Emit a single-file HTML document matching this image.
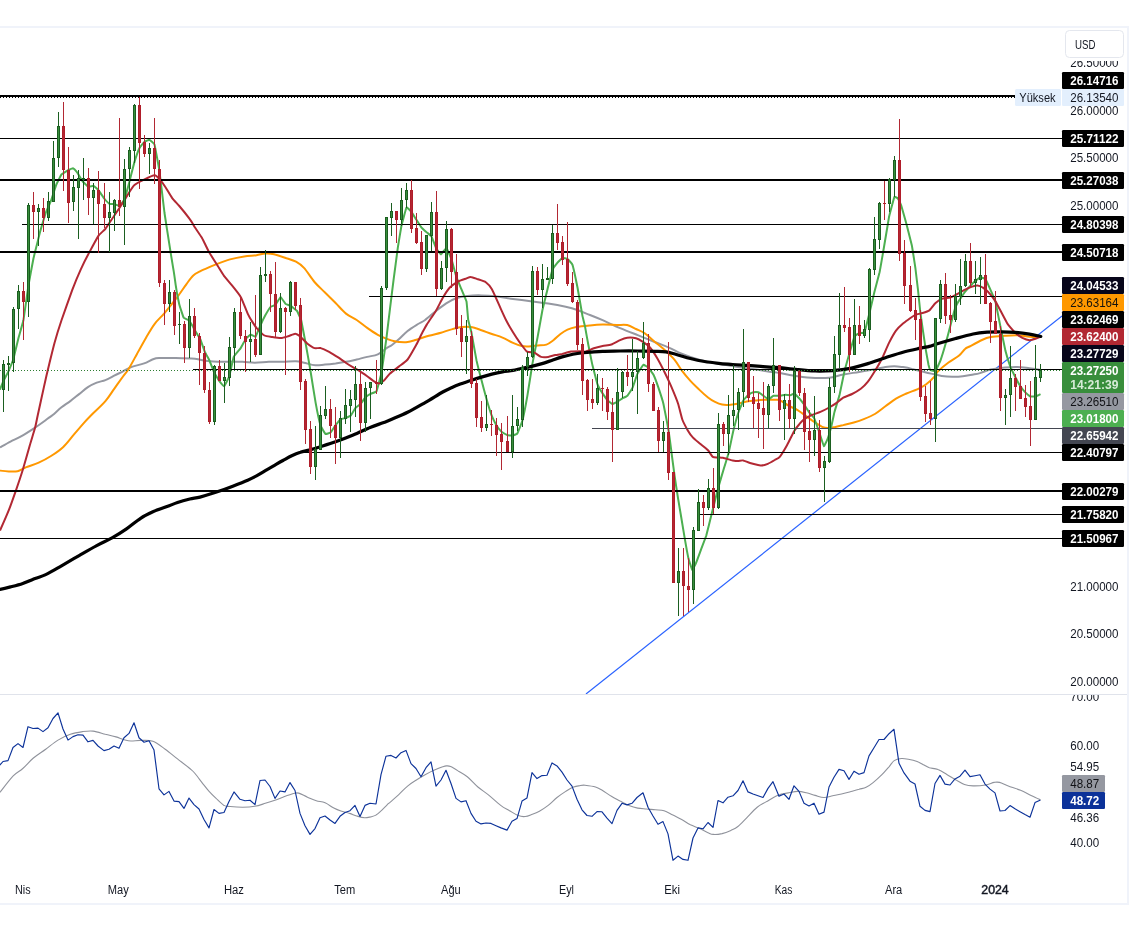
<!DOCTYPE html>
<html lang="tr"><head><meta charset="utf-8"><title>Chart</title>
<style>html,body{margin:0;padding:0;background:#fff;}body{width:1138px;height:939px;overflow:hidden;}svg{display:block;}</style>
</head><body>
<svg width="1138" height="939" viewBox="0 0 1138 939" font-family="Liberation Sans, sans-serif" font-size="12">
<rect x="0" y="0" width="1138" height="939" fill="#fff"/>
<g shape-rendering="crispEdges" fill="#f0f3fa">
<rect x="0" y="26" width="1129" height="2"/>
<rect x="1127" y="26" width="2" height="879"/>
<rect x="0" y="903" width="1129" height="2"/>
</g>
<rect x="0" y="694" width="1127" height="1" fill="#e0e3eb" shape-rendering="crispEdges"/>
<defs><clipPath id="cm"><rect x="0" y="28" width="1062" height="666"/></clipPath><clipPath id="cr"><rect x="0" y="695" width="1062" height="175"/></clipPath><clipPath id="c70"><rect x="1062" y="695" width="65" height="20"/></clipPath><clipPath id="c265"><rect x="1062" y="61" width="65" height="20"/></clipPath></defs>
<g clip-path="url(#cm)">
<line x1="586" y1="694" x2="1062" y2="316" stroke="#2962ff" stroke-width="1.2"/>
<path d="M0.0,447.4C1.8,446.4 7.0,443.4 10.5,441.6C14.0,439.8 16.9,438.7 21.0,436.4C25.1,434.1 30.7,430.5 35.1,427.6C39.5,424.7 44.6,420.9 47.5,418.8C50.4,416.7 50.4,416.9 52.7,415.0C55.0,413.1 58.6,409.6 61.5,407.3C64.4,405.0 67.4,403.3 70.3,401.1C73.2,398.9 76.2,396.4 79.1,394.1C82.0,391.8 85.0,389.0 87.9,387.1C90.8,385.2 93.8,383.9 96.7,382.7C99.6,381.5 102.5,381.3 105.4,380.1C108.3,378.9 111.3,377.2 114.2,375.7C117.1,374.2 120.1,372.8 123.0,371.3C125.9,369.8 128.3,368.2 131.8,366.9C135.3,365.6 140.6,364.7 144.1,363.4C147.6,362.1 150.4,360.2 152.9,359.3C155.4,358.4 155.2,358.3 159.0,358.1C162.8,357.9 169.7,358.0 175.7,358.1C181.7,358.2 190.0,358.4 195.0,358.8C200.0,359.2 201.7,360.3 205.5,360.8C209.3,361.3 213.7,361.5 217.8,361.7C221.9,361.9 225.9,361.8 230.0,361.8C234.1,361.8 238.4,361.7 242.5,361.8C246.6,361.9 250.4,362.7 254.8,362.7C259.2,362.7 264.1,362.0 268.8,361.8C273.5,361.6 278.4,361.8 282.9,361.7C287.4,361.6 292.5,361.1 296.0,361.3C299.5,361.5 300.8,362.0 304.0,362.7C307.2,363.4 311.9,365.0 315.4,365.3C318.9,365.6 321.6,364.8 325.0,364.5C328.4,364.2 332.1,363.8 335.6,363.4C339.1,362.9 342.5,362.4 346.0,361.8C349.5,361.2 353.2,360.3 356.7,359.5C360.2,358.7 363.7,357.8 367.2,356.9C370.7,356.0 374.6,355.8 377.8,354.3C381.0,352.8 384.2,349.7 386.6,348.1C389.0,346.6 390.0,346.5 392.0,345.0C394.0,343.5 396.2,341.6 398.8,339.3C401.4,337.0 404.4,333.6 407.6,331.0C410.8,328.4 415.2,325.8 418.1,324.0C421.0,322.2 422.2,322.1 425.1,320.0C428.0,317.9 432.2,314.0 435.7,311.2C439.2,308.4 442.7,305.5 446.2,303.3C449.7,301.1 453.3,299.2 456.8,298.0C460.3,296.8 463.2,296.3 467.3,295.9C471.4,295.5 476.7,295.3 481.4,295.4C486.1,295.5 490.1,295.7 495.4,296.3C500.7,296.9 507.1,298.1 513.0,298.9C518.9,299.7 524.7,300.4 530.6,301.2C536.5,302.0 542.4,302.7 548.2,303.6C554.1,304.5 560.7,305.7 565.7,306.8C570.7,307.9 574.0,308.9 578.0,310.3C582.0,311.7 585.9,313.4 590.0,315.0C594.1,316.6 597.6,318.0 602.6,320.2C607.6,322.4 614.2,325.6 620.1,328.1C626.0,330.6 631.8,332.8 637.7,335.1C643.6,337.5 650.0,340.1 655.3,342.2C660.6,344.3 665.0,345.9 669.4,347.8C673.8,349.7 676.7,351.6 681.7,353.6C686.7,355.6 693.4,358.1 699.2,359.8C705.1,361.5 710.9,362.5 716.8,363.6C722.7,364.7 728.5,365.5 734.4,366.4C740.3,367.3 746.1,368.0 752.0,368.9C757.9,369.8 764.8,371.0 769.5,371.7C774.2,372.4 775.3,372.3 780.0,373.1C784.7,373.9 791.8,375.5 797.6,376.3C803.5,377.1 809.8,377.8 815.1,378.0C820.4,378.2 824.5,378.3 829.2,377.7C833.9,377.1 838.3,375.5 843.3,374.5C848.3,373.5 853.8,372.8 859.1,371.9C864.4,371.0 870.5,370.0 874.9,369.2C879.3,368.4 882.2,367.5 885.4,367.0C888.6,366.5 891.3,366.2 894.2,366.2C897.1,366.2 900.1,366.7 903.0,367.1C905.9,367.6 908.9,368.2 911.8,368.9C914.7,369.5 917.4,370.2 920.6,371.0C923.8,371.8 927.6,372.8 931.1,373.6C934.6,374.4 938.2,375.4 941.7,375.9C945.2,376.4 948.7,376.7 952.2,376.8C955.7,376.9 959.3,376.7 962.8,376.3C966.3,375.9 970.4,375.0 973.3,374.5C976.2,374.0 977.1,373.9 980.0,373.1C982.9,372.3 986.6,370.5 990.7,369.6C994.8,368.7 1000.4,367.9 1004.8,367.5C1009.2,367.1 1013.0,366.8 1017.1,366.9C1021.2,367.0 1025.5,367.8 1029.4,368.3C1033.4,368.8 1038.9,369.6 1040.8,369.9" fill="none" stroke="#9598a1" stroke-width="2" stroke-linejoin="round" stroke-linecap="butt"/>
<path d="M0.0,470.6C1.5,470.8 5.9,471.4 8.8,471.5C11.7,471.6 14.7,471.9 17.6,471.2C20.5,470.5 22.9,468.5 26.4,467.1C29.9,465.7 34.6,464.6 38.7,462.7C42.8,460.8 46.9,458.6 51.0,456.0C55.1,453.4 59.5,450.5 63.3,446.9C67.1,443.3 70.3,438.7 73.8,434.6C77.3,430.5 81.5,425.6 84.4,422.3C87.3,419.0 87.9,418.5 91.4,415.0C94.9,411.5 101.6,405.5 105.4,401.1C109.2,396.7 111.3,392.9 114.2,388.8C117.1,384.7 120.7,379.7 123.0,376.5C125.3,373.3 126.0,373.3 128.3,369.5C130.7,365.7 134.2,359.0 137.1,353.7C140.0,348.4 143.0,342.9 145.9,337.9C148.8,332.9 151.6,327.9 154.7,323.8C157.8,319.7 160.8,317.4 164.3,313.3C167.8,309.2 172.0,304.0 175.7,299.2C179.4,294.4 183.4,288.2 186.3,284.3C189.2,280.4 191.0,277.6 193.3,275.5C195.6,273.4 198.0,272.5 200.0,271.4C202.0,270.3 202.8,270.0 205.5,268.8C208.2,267.6 211.9,266.0 216.0,264.4C220.1,262.8 225.3,260.7 230.0,259.4C234.7,258.1 239.8,257.1 244.2,256.4C248.6,255.7 253.0,255.7 256.5,255.2C260.0,254.7 262.4,253.7 265.3,253.5C268.2,253.3 270.5,253.4 274.0,254.2C277.5,255.0 282.7,256.9 286.4,258.2C290.1,259.4 293.1,260.1 296.0,261.7C298.9,263.3 300.9,264.5 304.0,267.9C307.1,271.3 311.0,277.9 314.5,282.0C318.0,286.1 321.5,289.0 325.0,292.5C328.5,296.0 332.1,299.5 335.6,303.0C339.1,306.5 342.5,310.8 346.0,313.6C349.5,316.4 353.2,317.6 356.7,320.0C360.2,322.4 363.7,325.4 367.2,327.9C370.7,330.4 374.3,332.9 377.8,334.8C381.3,336.7 385.4,338.3 388.3,339.4C391.2,340.5 393.2,340.9 395.0,341.3C396.8,341.7 396.7,341.9 398.8,342.0C400.9,342.1 404.7,342.4 407.6,342.0C410.5,341.6 412.9,340.7 416.4,339.7C419.9,338.7 424.6,337.0 428.7,335.8C432.8,334.6 437.2,333.8 441.0,332.7C444.8,331.6 448.0,330.3 451.5,329.4C455.0,328.4 458.8,327.4 462.0,327.0C465.2,326.6 467.6,326.5 470.8,327.0C474.0,327.5 477.9,329.0 481.4,330.2C484.9,331.4 488.4,332.8 491.9,334.0C495.4,335.2 499.0,336.1 502.5,337.6C506.0,339.1 509.8,341.4 513.0,342.8C516.2,344.2 519.2,345.4 521.8,346.0C524.4,346.6 526.2,346.5 528.8,346.4C531.4,346.3 534.7,345.8 537.6,345.5C540.5,345.2 543.8,345.5 546.4,344.6C549.0,343.7 551.0,342.0 553.4,340.2C555.8,338.4 558.1,335.8 560.5,334.0C562.9,332.2 564.9,330.9 567.5,329.7C570.1,328.5 572.5,327.7 576.3,327.0C580.0,326.3 585.6,325.8 590.0,325.4C594.4,325.0 598.2,324.7 602.6,324.6C607.0,324.5 612.5,324.9 616.6,325.0C620.7,325.1 624.0,324.4 627.2,325.1C630.4,325.8 633.1,327.6 636.0,329.0C638.9,330.4 641.6,331.2 644.8,333.4C648.0,335.6 651.8,339.3 655.3,342.2C658.8,345.1 662.6,348.1 665.8,351.0C669.0,353.9 672.0,356.6 674.6,359.8C677.2,363.0 679.1,366.8 681.7,370.3C684.3,373.8 687.5,377.6 690.4,380.8C693.3,384.0 696.3,386.8 699.2,389.6C702.1,392.4 705.4,395.4 708.0,397.5C710.6,399.6 712.6,400.7 715.0,401.9C717.4,403.1 719.8,404.1 722.1,404.6C724.5,405.1 726.5,405.0 729.1,404.9C731.7,404.8 735.0,404.2 737.9,403.7C740.8,403.1 743.8,402.1 746.7,401.6C749.6,401.1 752.6,400.8 755.5,400.5C758.4,400.2 761.1,399.9 764.3,399.8C767.5,399.7 772.2,399.7 774.8,399.8C777.4,399.9 777.7,399.3 780.0,400.3C782.3,401.3 785.9,404.2 788.8,405.8C791.7,407.4 794.7,408.4 797.6,410.1C800.5,411.9 803.5,414.2 806.4,416.3C809.3,418.4 812.5,420.8 815.1,422.5C817.7,424.2 820.1,425.9 822.2,426.8C824.3,427.7 825.5,428.0 827.5,428.1C829.5,428.2 831.9,427.7 834.5,427.2C837.1,426.7 840.1,425.9 843.3,425.1C846.5,424.3 850.3,423.5 853.8,422.5C857.3,421.5 860.9,420.3 864.4,418.9C867.9,417.5 871.4,416.1 874.9,414.0C878.4,411.9 881.9,408.9 885.4,406.3C888.9,403.8 892.5,400.8 896.0,398.7C899.5,396.6 903.0,395.1 906.5,393.5C910.0,391.9 913.9,390.9 917.1,389.4C920.3,387.9 923.0,386.7 925.9,384.5C928.8,382.3 932.7,378.5 934.7,376.3C936.7,374.1 935.7,373.6 938.0,371.3C940.3,369.0 945.0,365.1 948.5,362.5C952.0,359.9 956.3,357.9 959.1,355.6C961.9,353.3 963.5,350.3 965.3,348.8C967.0,347.3 966.8,348.0 969.6,346.5C972.4,345.0 978.5,341.6 982.0,340.0C985.5,338.4 986.9,337.8 990.7,337.1C994.5,336.4 1000.4,336.1 1004.8,335.8C1009.2,335.5 1013.0,335.2 1017.1,335.3C1021.2,335.4 1025.5,336.4 1029.4,336.7C1033.4,337.0 1038.9,337.0 1040.8,337.1" fill="none" stroke="#ff9800" stroke-width="2" stroke-linejoin="round" stroke-linecap="butt"/>
<path d="M0.0,389.7C0.1,389.3 3.2,381.6 3.5,380.9C3.8,380.2 8.0,372.2 8.4,371.3C8.8,370.4 13.0,360.3 13.4,359.0C13.8,357.7 18.1,339.4 18.5,337.9C18.9,336.4 23.0,322.4 23.4,320.3C23.8,318.2 28.1,287.6 28.5,285.1C28.9,282.6 33.1,260.1 33.4,258.8C33.7,257.5 34.8,252.8 35.1,251.7C35.4,250.6 40.0,232.1 40.4,230.6C40.8,229.1 45.3,214.2 45.7,213.0C46.1,211.8 50.6,201.8 51.0,200.7C51.4,199.6 55.8,186.0 56.2,184.9C56.6,183.8 61.0,175.0 61.5,174.4C62.0,173.8 68.0,170.2 68.5,170.0C69.0,169.8 72.5,168.1 72.9,168.2C73.3,168.3 76.9,172.1 77.3,172.6C77.7,173.1 82.2,180.8 82.6,181.4C83.0,182.0 88.0,186.5 88.4,186.7C88.8,186.9 93.1,185.7 93.5,185.8C93.9,185.9 98.0,189.7 98.4,190.2C98.8,190.7 104.2,198.5 104.6,199.0C105.0,199.5 109.1,203.7 109.5,203.9C109.9,204.1 114.2,204.1 114.6,204.2C115.0,204.3 119.1,206.2 119.5,206.0C119.9,205.8 124.2,200.0 124.6,199.0C125.0,198.0 129.1,182.9 129.5,181.4C129.9,179.9 134.0,163.4 134.4,162.1C134.8,160.8 139.1,148.8 139.5,148.0C139.9,147.2 144.1,142.1 144.5,141.8C144.9,141.5 149.0,139.6 149.4,139.7C149.8,139.8 154.1,143.3 154.5,144.5C154.9,145.7 159.0,168.1 159.4,170.8C159.8,173.5 164.1,210.0 164.5,213.0C164.9,216.0 169.1,242.5 169.4,244.7C169.7,246.9 172.8,266.0 173.1,267.6C173.4,269.2 175.5,283.6 175.7,285.1C175.9,286.6 179.0,303.2 179.3,304.5C179.6,305.8 183.3,317.1 183.7,317.7C184.1,318.3 188.5,319.9 188.9,320.3C189.3,320.7 193.1,326.9 193.3,327.3C193.5,327.7 194.7,330.0 195.0,330.5C195.3,331.0 199.9,338.5 200.3,339.3C200.7,340.1 204.4,350.8 204.7,351.6C205.0,352.4 208.6,358.7 209.0,359.5C209.4,360.3 213.9,371.8 214.3,372.7C214.7,373.6 219.2,381.0 219.6,381.5C220.0,382.0 223.6,386.6 224.0,386.4C224.4,386.2 228.9,377.4 229.3,376.2C229.7,375.0 233.2,358.0 233.7,356.9C234.2,355.8 240.2,348.8 240.7,348.1C241.2,347.4 245.6,339.0 246.0,338.5C246.4,338.0 250.1,334.7 250.5,334.6C250.9,334.5 255.2,337.1 255.6,336.7C256.0,336.3 260.1,326.2 260.5,325.3C260.9,324.4 264.9,316.0 265.3,315.3C265.7,314.6 270.2,307.3 270.6,306.9C271.0,306.5 275.1,305.2 275.5,304.8C275.9,304.4 280.2,296.9 280.6,296.9C281.0,296.9 285.1,303.5 285.5,303.9C285.9,304.3 289.9,305.4 290.4,305.7C290.9,306.0 296.6,310.3 297.0,310.9C297.4,311.5 301.0,319.3 301.3,320.6C301.6,321.9 305.3,341.7 305.7,343.7C306.1,345.7 310.1,368.6 310.5,371.0C310.9,373.4 315.2,400.4 315.6,402.6C316.0,404.8 320.1,424.1 320.5,425.4C320.9,426.7 325.0,433.6 325.4,433.9C325.8,434.2 330.1,432.8 330.5,432.5C330.9,432.2 335.0,425.9 335.4,425.4C335.8,424.9 340.1,419.6 340.5,419.3C340.9,419.0 345.0,418.1 345.4,418.0C345.8,417.9 350.1,416.2 350.5,415.8C350.9,415.4 355.1,408.4 355.5,407.9C355.9,407.4 360.1,404.4 360.5,404.0C360.9,403.6 365.1,397.7 365.5,397.3C365.9,396.9 370.1,394.0 370.5,393.8C370.9,393.6 376.1,392.0 376.5,391.2C376.9,390.4 381.1,374.8 381.5,372.7C381.9,370.6 386.2,340.2 386.5,337.6C386.8,335.0 389.7,310.9 390.0,308.6C390.3,306.3 393.2,282.9 393.5,280.4C393.8,277.9 397.6,249.3 397.9,247.1C398.2,244.9 401.1,227.6 401.4,226.0C401.7,224.4 406.1,208.1 406.5,207.5C406.9,206.9 411.0,211.4 411.4,211.9C411.8,212.4 416.0,219.2 416.4,219.8C416.8,220.4 421.1,227.2 421.5,227.7C421.9,228.2 426.0,231.7 426.4,232.1C426.8,232.5 431.1,235.8 431.5,236.5C431.9,237.2 436.0,248.1 436.4,248.8C436.8,249.5 440.6,254.4 441.0,254.4C441.4,254.4 446.0,247.7 446.4,247.9C446.8,248.1 451.1,258.2 451.5,259.4C451.9,260.6 456.0,275.7 456.4,276.9C456.8,278.1 461.0,288.2 461.4,289.2C461.8,290.2 466.2,300.3 466.5,301.5C466.8,302.7 468.0,318.8 468.2,320.0C468.4,321.2 471.1,330.7 471.4,332.3C471.7,333.9 476.1,358.5 476.5,360.4C476.9,362.3 481.0,378.3 481.4,379.8C481.8,381.3 486.1,397.7 486.5,399.1C486.9,400.5 491.0,413.8 491.4,414.9C491.8,416.0 496.1,424.7 496.5,425.4C496.9,426.1 501.0,431.2 501.4,431.6C501.8,432.0 507.0,434.9 507.4,435.1C507.8,435.3 512.1,435.6 512.5,435.5C512.9,435.4 517.0,434.0 517.4,433.4C517.8,432.8 522.1,421.7 522.5,420.2C522.9,418.7 527.0,397.9 527.4,395.6C527.8,393.3 532.0,366.2 532.4,363.9C532.8,361.6 537.1,339.7 537.5,337.6C537.9,335.5 542.0,312.2 542.4,310.3C542.8,308.4 547.1,290.8 547.5,289.2C547.9,287.6 552.0,271.0 552.4,269.9C552.8,268.8 556.9,263.4 557.3,262.9C557.7,262.4 562.0,258.2 562.4,258.0C562.8,257.8 567.1,258.7 567.5,259.0C567.9,259.3 572.0,263.5 572.4,264.6C572.8,265.7 577.1,285.5 577.5,287.5C577.9,289.5 582.1,314.0 582.4,315.6C582.7,317.2 584.8,325.2 585.0,326.4C585.2,327.6 588.2,344.2 588.5,345.7C588.8,347.2 592.0,363.5 592.4,365.0C592.8,366.5 597.1,383.3 597.5,384.4C597.9,385.5 602.0,392.5 602.4,393.1C602.8,393.7 607.1,399.8 607.5,400.2C607.9,400.6 612.0,403.9 612.4,404.0C612.8,404.1 617.1,401.8 617.5,401.6C617.9,401.4 622.0,398.6 622.4,398.4C622.8,398.2 627.0,396.2 627.4,395.8C627.8,395.4 632.1,388.8 632.5,387.9C632.9,387.0 637.0,374.7 637.4,373.8C637.8,372.9 643.1,364.9 643.5,364.7C643.9,364.5 648.0,367.3 648.4,367.7C648.8,368.1 653.1,373.9 653.5,374.7C653.9,375.5 658.1,386.7 658.5,387.9C658.9,389.1 663.0,402.0 663.4,403.7C663.8,405.4 668.2,428.3 668.5,430.1C668.8,431.9 670.9,447.6 671.1,449.4C671.3,451.2 674.3,473.8 674.6,475.8C674.9,477.8 677.7,496.5 678.1,498.7C678.5,500.9 683.0,527.9 683.4,530.3C683.8,532.7 688.1,556.8 688.5,558.4C688.9,560.0 691.9,569.6 692.2,569.8C692.5,570.0 695.3,564.5 695.7,563.7C696.1,562.9 700.6,550.7 701.0,549.6C701.4,548.5 705.9,537.0 706.3,535.6C706.7,534.2 711.0,516.5 711.5,514.5C712.0,512.5 718.1,488.2 718.6,486.4C719.1,484.6 723.4,470.1 723.8,468.8C724.2,467.5 728.2,454.4 728.6,452.9C729.0,451.4 733.1,431.7 733.5,430.1C733.9,428.5 738.0,413.7 738.4,412.5C738.8,411.3 743.1,400.9 743.5,400.2C743.9,399.5 748.0,395.2 748.4,394.9C748.8,394.6 753.0,392.4 753.4,392.3C753.8,392.2 758.1,392.2 758.5,392.3C758.9,392.4 763.0,395.5 763.4,395.8C763.8,396.1 768.1,399.3 768.5,399.3C768.9,399.3 773.0,395.9 773.4,395.8C773.8,395.7 778.9,395.8 779.4,395.8C779.9,395.8 784.9,394.7 785.3,394.7C785.7,394.7 790.1,395.2 790.5,395.2C790.9,395.2 794.0,393.4 794.4,393.5C794.8,393.6 799.1,398.2 799.5,398.7C799.9,399.2 804.0,404.3 804.4,404.9C804.8,405.5 809.1,412.3 809.5,412.8C809.9,413.3 814.0,417.8 814.4,418.6C814.8,419.4 819.1,431.9 819.5,433.0C819.9,434.1 823.6,446.0 823.9,446.2C824.2,446.4 827.2,439.8 827.5,439.1C827.8,438.4 830.7,428.8 831.0,427.7C831.3,426.6 834.2,413.2 834.5,411.9C834.8,410.6 839.0,397.2 839.4,395.6C839.8,394.0 844.1,372.7 844.5,371.0C844.9,369.3 849.0,354.8 849.4,353.4C849.8,352.0 854.1,337.5 854.5,336.7C854.9,335.9 859.0,333.4 859.4,333.2C859.8,333.0 864.1,333.1 864.5,332.3C864.9,331.5 869.1,314.6 869.5,313.0C869.9,311.4 874.0,293.5 874.4,291.9C874.8,290.3 879.1,274.3 879.5,272.6C879.9,270.9 883.3,251.0 883.7,248.8C884.1,246.6 888.6,219.3 889.0,217.2C889.4,215.1 894.0,197.7 894.4,197.0C894.8,196.3 897.8,198.4 898.1,198.8C898.4,199.2 901.0,204.8 901.3,205.8C901.6,206.8 906.1,222.6 906.5,224.2C906.9,225.8 911.4,243.5 911.8,245.3C912.2,247.1 915.3,267.2 915.5,269.0C915.7,270.8 917.8,288.2 918.0,290.0C918.2,291.8 920.2,311.3 920.4,313.0C920.6,314.7 923.0,330.9 923.2,332.3C923.4,333.7 925.3,346.8 925.5,348.1C925.7,349.4 928.3,363.9 928.5,364.8C928.7,365.7 930.1,369.8 930.4,370.0C930.7,370.2 935.1,371.4 935.5,371.0C935.9,370.6 940.1,361.5 940.5,360.4C940.9,359.3 945.0,346.0 945.4,344.6C945.8,343.2 950.1,326.8 950.5,325.3C950.9,323.8 955.0,308.3 955.4,307.2C955.8,306.1 960.1,299.0 960.5,298.4C960.9,297.8 965.0,291.9 965.4,291.4C965.8,290.9 970.1,286.1 970.5,285.7C970.9,285.3 975.0,281.1 975.4,280.8C975.8,280.5 980.0,277.4 980.4,277.3C980.8,277.2 985.1,278.6 985.5,279.1C985.9,279.6 990.0,288.7 990.4,289.6C990.8,290.5 995.1,300.4 995.5,301.9C995.9,303.4 1000.0,324.5 1000.4,326.5C1000.8,328.5 1005.1,349.5 1005.5,351.1C1005.9,352.7 1010.0,365.8 1010.4,366.9C1010.8,368.0 1015.1,376.7 1015.5,377.5C1015.9,378.3 1020.0,385.7 1020.4,386.3C1020.8,386.9 1024.9,392.0 1025.3,392.4C1025.7,392.8 1030.0,396.3 1030.4,396.5C1030.8,396.7 1035.0,396.6 1035.4,396.5C1035.8,396.4 1040.3,394.3 1040.5,394.2" fill="none" stroke="#4caf50" stroke-width="2" stroke-linejoin="round" stroke-linecap="butt"/>
<path d="M0.0,530.5C0.9,528.5 7.2,514.2 8.8,510.2C10.4,506.2 14.4,494.8 15.8,490.8C17.2,486.8 21.4,474.4 22.8,469.8C24.2,465.2 28.7,449.3 29.9,445.1C31.1,440.9 34.3,430.6 35.1,427.6C35.9,424.6 36.9,419.1 37.8,415.0C38.7,410.9 42.8,392.2 43.9,387.1C45.0,382.0 48.1,368.6 49.2,364.2C50.3,359.8 53.3,347.5 54.5,343.1C55.7,338.7 59.7,325.6 61.5,320.3C63.3,315.0 70.2,295.5 72.1,290.4C74.0,285.3 79.2,272.8 80.8,269.3C82.4,265.8 86.1,258.3 87.9,255.0C89.7,251.7 96.7,238.5 98.4,235.9C100.2,233.3 103.8,230.8 105.4,228.8C107.0,226.8 112.4,218.3 114.2,215.7C116.0,213.1 121.1,205.5 123.0,202.5C124.9,199.5 131.5,188.1 133.6,185.8C135.7,183.5 142.0,180.7 144.1,179.6C146.2,178.5 153.1,175.2 154.7,175.2C156.3,175.2 158.8,178.4 159.9,179.6C161.0,180.8 164.0,184.8 165.2,186.7C166.4,188.5 170.8,196.2 172.2,198.1C173.6,200.0 177.5,203.9 179.3,206.0C181.1,208.1 188.2,217.0 189.8,219.2C191.4,221.3 193.8,225.6 195.0,227.5C196.2,229.4 200.6,235.6 202.0,238.0C203.4,240.4 207.4,249.2 209.0,252.0C210.6,254.8 216.3,263.6 217.8,266.0C219.3,268.4 222.6,273.9 224.0,275.8C225.4,277.7 230.3,283.3 232.0,285.4C233.7,287.5 239.1,294.1 240.7,296.9C242.3,299.7 246.6,311.3 247.7,313.6C248.8,315.9 250.3,318.6 251.2,320.0C252.1,321.4 255.2,326.3 256.5,327.9C257.8,329.4 262.8,334.6 264.4,335.5C266.0,336.4 270.6,336.7 272.3,337.0C274.0,337.3 279.5,338.2 281.1,338.1C282.7,338.0 286.7,336.7 288.1,336.3C289.5,335.9 294.0,333.7 295.2,333.7C296.4,333.7 299.2,335.7 300.4,336.7C301.6,337.7 306.1,342.6 307.5,343.7C308.9,344.8 313.2,347.7 314.5,348.1C315.8,348.5 319.3,347.8 320.7,348.1C322.1,348.5 326.9,350.7 328.6,351.6C330.3,352.5 335.6,355.8 337.4,356.9C339.1,358.0 344.5,361.9 346.1,363.0C347.7,364.1 351.8,366.6 353.2,367.4C354.6,368.2 358.8,370.4 360.2,371.3C361.6,372.2 365.8,375.2 367.2,376.2C368.6,377.2 373.2,380.8 374.3,381.5C375.4,382.2 377.7,383.7 378.7,383.6C379.7,383.5 382.9,381.6 384.0,380.6C385.1,379.6 388.5,374.9 390.0,373.5C391.5,372.1 397.0,368.0 398.8,366.6C400.6,365.2 405.8,361.7 407.6,359.5C409.4,357.3 414.9,347.3 416.4,344.6C417.9,341.9 421.4,334.3 422.5,332.3C423.6,330.3 425.6,326.5 426.9,324.4C428.2,322.3 434.1,313.8 435.7,311.2C437.3,308.6 441.3,300.4 442.7,298.0C444.1,295.6 448.2,289.2 449.8,287.5C451.4,285.8 456.9,282.2 458.5,281.3C460.1,280.4 464.4,279.1 465.6,278.7C466.8,278.3 469.6,276.8 470.8,276.9C472.0,276.9 476.4,278.7 477.9,279.2C479.4,279.7 484.4,281.2 485.8,282.2C487.2,283.2 490.4,286.6 491.9,289.2C493.4,291.8 499.3,305.5 500.7,308.6C502.1,311.7 504.8,317.6 506.0,320.0C507.2,322.4 511.6,330.0 513.0,332.3C514.4,334.6 518.6,340.9 520.0,342.8C521.4,344.7 525.6,350.6 527.0,351.6C528.4,352.6 532.7,352.0 534.1,352.5C535.5,353.0 539.7,356.5 541.1,356.9C542.5,357.3 546.8,357.1 548.2,356.9C549.6,356.7 553.8,355.4 555.2,355.1C556.6,354.8 560.6,354.2 562.2,353.9C563.8,353.5 569.2,351.9 571.0,351.6C572.8,351.3 578.4,351.3 579.8,351.3C581.2,351.3 583.6,352.1 585.0,351.8C586.4,351.5 592.0,348.9 593.8,348.3C595.6,347.7 600.8,346.4 602.6,346.0C604.4,345.6 609.6,345.1 611.4,344.5C613.1,343.9 618.5,340.8 620.1,340.1C621.7,339.4 625.6,338.0 627.2,337.8C628.8,337.6 634.4,337.9 636.0,338.3C637.6,338.7 641.6,340.9 643.0,341.8C644.4,342.7 648.6,345.9 650.0,347.5C651.4,349.1 655.7,355.6 657.1,358.0C658.5,360.4 662.7,368.4 664.1,371.2C665.5,374.0 669.7,382.9 671.1,386.1C672.5,389.4 677.0,400.3 678.1,403.7C679.2,407.1 681.5,417.3 682.5,420.0C683.5,422.7 686.8,428.7 687.8,430.5C688.8,432.3 691.7,436.2 693.0,437.6C694.3,439.0 699.0,442.7 700.5,444.0C702.0,445.3 706.8,449.0 708.0,450.3C709.2,451.6 711.8,456.2 712.8,456.9C713.8,457.6 717.0,457.3 718.0,457.4C719.0,457.5 721.5,457.5 723.0,457.8C724.5,458.1 731.1,460.1 732.6,460.4C734.1,460.7 736.9,461.1 737.9,461.1C738.9,461.1 741.9,460.2 743.1,460.4C744.3,460.6 748.2,462.5 750.0,463.0C751.8,463.5 758.9,465.4 760.7,465.5C762.5,465.6 766.4,464.4 767.8,463.8C769.2,463.2 773.6,460.7 774.8,460.0C776.0,459.3 778.8,458.1 780.0,456.6C781.2,455.1 785.6,447.8 787.0,445.3C788.4,442.8 792.9,433.3 794.1,431.2C795.3,429.1 798.2,425.4 799.3,424.2C800.3,423.0 803.4,419.8 804.6,418.9C805.8,418.0 810.0,415.8 811.6,415.1C813.2,414.4 818.6,412.7 820.4,411.9C822.2,411.1 827.6,408.4 829.2,407.5C830.8,406.6 834.8,404.1 836.2,403.1C837.6,402.1 841.7,398.5 843.3,397.6C844.9,396.7 850.4,394.9 852.1,394.0C853.9,393.1 859.2,390.0 860.8,388.8C862.4,387.6 866.5,383.5 867.9,381.7C869.3,379.9 873.5,373.3 874.9,371.0C876.3,368.7 880.5,361.5 881.9,358.7C883.3,355.9 887.6,345.7 889.0,342.9C890.4,340.1 894.6,332.5 896.0,330.6C897.4,328.7 901.6,324.7 903.0,323.5C904.4,322.3 908.9,319.2 910.1,318.3C911.3,317.4 914.1,315.3 915.3,314.8C916.5,314.3 921.0,313.4 922.4,313.0C923.8,312.6 928.1,311.4 929.4,310.4C930.7,309.4 934.1,304.4 935.3,303.3C936.5,302.2 939.9,299.5 941.4,298.9C942.9,298.3 948.7,298.0 950.2,297.6C951.7,297.2 954.9,295.3 956.4,294.5C957.9,293.7 963.5,290.4 965.1,289.6C966.7,288.8 971.0,287.0 972.2,286.6C973.4,286.2 976.5,285.4 977.5,285.5C978.5,285.6 981.7,286.9 982.7,287.5C983.8,288.1 986.8,290.5 988.0,291.8C989.2,293.1 993.8,298.8 995.0,300.6C996.2,302.5 999.1,308.2 1000.3,310.3C1001.4,312.4 1005.7,320.6 1006.5,322.0C1007.3,323.4 1007.4,323.7 1008.3,324.8C1009.2,325.9 1013.9,331.4 1015.3,332.7C1016.7,334.0 1021.0,337.1 1022.4,337.9C1023.8,338.6 1028.1,340.1 1029.4,340.2C1030.7,340.3 1034.4,339.2 1035.5,338.8C1036.6,338.4 1040.3,336.9 1040.8,336.7" fill="none" stroke="#b22833" stroke-width="2" stroke-linejoin="round" stroke-linecap="butt"/>
<path d="M0.0,589.5C1.8,589.1 6.7,587.9 10.5,586.9C14.3,585.9 18.7,584.8 22.8,583.4C26.9,582.0 31.3,580.1 35.1,578.6C38.9,577.1 41.3,576.7 45.7,574.6C50.1,572.5 55.9,569.0 61.5,565.8C67.1,562.6 73.2,559.0 79.1,555.6C85.0,552.2 91.1,548.6 96.7,545.6C102.3,542.6 107.5,540.5 112.5,537.7C117.5,534.9 121.8,532.1 126.5,528.9C131.2,525.7 136.2,521.1 140.6,518.3C145.0,515.4 148.5,513.8 152.9,511.8C157.3,509.9 162.9,508.2 167.0,506.6C171.1,505.1 173.7,503.8 177.5,502.5C181.3,501.2 186.1,499.9 189.8,499.0C193.6,498.1 195.8,498.2 200.0,497.1C204.2,496.0 209.5,494.4 215.0,492.6C220.5,490.8 227.4,488.3 232.8,486.2C238.2,484.1 243.8,481.9 247.7,480.2C251.6,478.5 253.6,477.5 256.5,475.9C259.4,474.3 262.4,472.3 265.3,470.6C268.2,468.9 271.2,467.3 274.1,465.6C277.0,463.9 280.0,462.1 282.9,460.5C285.8,458.9 288.8,457.1 291.7,455.7C294.6,454.3 297.5,453.1 300.4,452.2C303.3,451.2 306.3,450.8 309.2,450.0C312.1,449.2 313.6,448.8 318.0,447.4C322.4,446.0 329.7,443.9 335.6,441.8C341.5,439.8 347.4,437.5 353.2,435.1C359.0,432.7 365.7,429.2 370.7,427.2C375.7,425.1 379.8,424.0 383.0,422.8C386.2,421.6 385.9,421.8 390.0,420.0C394.1,418.2 401.8,415.2 407.6,412.3C413.5,409.4 419.2,406.0 425.1,402.6C431.0,399.2 438.3,394.5 442.7,392.0C447.1,389.5 448.6,389.0 451.5,387.7C454.4,386.4 457.1,385.3 460.3,384.1C463.5,382.9 467.3,381.8 470.8,380.6C474.3,379.4 477.9,378.2 481.4,377.1C484.9,376.0 488.4,375.0 491.9,374.1C495.4,373.2 499.0,372.4 502.5,371.8C506.0,371.2 509.8,371.0 513.0,370.4C516.2,369.8 518.9,368.9 521.8,368.3C524.7,367.7 527.4,367.3 530.6,366.6C533.8,365.9 537.6,364.9 541.1,363.9C544.6,362.9 548.2,361.6 551.7,360.4C555.2,359.2 558.7,357.9 562.2,356.9C565.7,355.9 569.3,355.0 572.8,354.3C576.3,353.6 580.4,353.0 583.3,352.6C586.2,352.2 586.8,352.4 590.0,352.2C593.2,352.0 597.6,351.5 602.6,351.3C607.6,351.1 614.2,351.1 620.1,351.0C626.0,350.9 631.8,350.9 637.7,351.0C643.6,351.1 650.6,351.2 655.3,351.3C660.0,351.4 662.3,351.3 665.8,351.8C669.3,352.3 672.3,353.4 676.4,354.5C680.5,355.6 685.7,357.3 690.4,358.5C695.1,359.7 699.8,360.7 704.5,361.5C709.2,362.3 713.9,362.8 718.6,363.3C723.3,363.8 727.9,364.1 732.6,364.5C737.3,364.9 742.0,365.1 746.7,365.4C751.4,365.7 756.3,366.1 760.7,366.4C765.1,366.7 769.8,367.1 773.0,367.3C776.2,367.5 775.9,367.3 780.0,367.7C784.1,368.1 791.8,369.1 797.6,369.6C803.5,370.2 809.2,370.8 815.1,371.0C821.0,371.2 826.8,371.0 832.7,370.6C838.6,370.2 844.4,369.6 850.3,368.4C856.2,367.2 862.0,365.4 867.9,363.6C873.8,361.8 879.5,359.7 885.4,357.8C891.2,355.9 897.1,353.8 903.0,352.2C908.9,350.6 916.2,349.1 920.6,348.1C925.0,347.1 926.5,347.2 929.4,346.4C932.3,345.6 933.8,344.8 938.2,343.5C942.6,342.2 949.8,340.1 955.6,338.5C961.4,336.9 967.8,335.1 973.1,334.0C978.4,332.9 982.5,332.5 987.2,332.1C991.9,331.7 996.6,331.8 1001.3,331.8C1006.0,331.8 1010.6,331.9 1015.3,332.3C1020.0,332.7 1025.2,333.4 1029.4,334.1C1033.7,334.8 1038.9,336.1 1040.8,336.5" fill="none" stroke="#000" stroke-width="3.2" stroke-linejoin="round" stroke-linecap="round"/>
</g>
<g shape-rendering="crispEdges">
<rect x="0" y="95" width="1015" height="2" fill="#000"/>
<rect x="0" y="138" width="1062" height="1" fill="#000"/>
<rect x="0" y="179" width="1062" height="2" fill="#000"/>
<rect x="22" y="224" width="1040" height="1" fill="#000"/>
<rect x="0" y="251" width="1062" height="2" fill="#000"/>
<rect x="369" y="296" width="693" height="1" fill="#000"/>
<rect x="193" y="369" width="869" height="1" fill="#000"/>
<rect x="592" y="428" width="470" height="1" fill="#434651"/>
<rect x="302" y="452" width="760" height="1" fill="#000"/>
<rect x="0" y="490" width="1062" height="2" fill="#000"/>
<rect x="699" y="514" width="363" height="1" fill="#000"/>
<rect x="0" y="538" width="1062" height="1" fill="#000"/>
<line x1="0" y1="97.5" x2="1015" y2="97.5" stroke="#000" stroke-width="1" stroke-dasharray="1 2"/>
<line x1="0" y1="370.5" x2="1062" y2="370.5" stroke="#2e7d32" stroke-width="1" stroke-dasharray="1 2"/>
</g>
<g clip-path="url(#cm)">
<g shape-rendering="crispEdges">
<rect x="3" y="360" width="1" height="52" fill="#1b5e20"/>
<rect x="2" y="364" width="3" height="26" fill="#1b5e20"/>
<rect x="3" y="365" width="1" height="24" fill="#388e3c"/>
<rect x="8" y="356" width="1" height="35" fill="#1b5e20"/>
<rect x="7" y="363" width="3" height="2" fill="#1b5e20"/>
<rect x="13" y="307" width="1" height="65" fill="#1b5e20"/>
<rect x="12" y="309" width="3" height="54" fill="#1b5e20"/>
<rect x="13" y="310" width="1" height="52" fill="#388e3c"/>
<rect x="18" y="285" width="1" height="44" fill="#1b5e20"/>
<rect x="17" y="291" width="3" height="18" fill="#1b5e20"/>
<rect x="18" y="292" width="1" height="16" fill="#388e3c"/>
<rect x="23" y="282" width="1" height="58" fill="#b22833"/>
<rect x="22" y="291" width="3" height="11" fill="#b01d2a"/>
<rect x="23" y="292" width="1" height="9" fill="#b22833"/>
<rect x="28" y="203" width="1" height="114" fill="#1b5e20"/>
<rect x="27" y="205" width="3" height="97" fill="#1b5e20"/>
<rect x="28" y="206" width="1" height="95" fill="#388e3c"/>
<rect x="33" y="192" width="1" height="47" fill="#b22833"/>
<rect x="32" y="205" width="3" height="7" fill="#b01d2a"/>
<rect x="33" y="206" width="1" height="5" fill="#b22833"/>
<rect x="38" y="204" width="1" height="42" fill="#1b5e20"/>
<rect x="37" y="208" width="3" height="4" fill="#1b5e20"/>
<rect x="38" y="209" width="1" height="2" fill="#388e3c"/>
<rect x="43" y="198" width="1" height="34" fill="#b22833"/>
<rect x="42" y="208" width="3" height="10" fill="#b01d2a"/>
<rect x="43" y="209" width="1" height="8" fill="#b22833"/>
<rect x="48" y="192" width="1" height="29" fill="#1b5e20"/>
<rect x="47" y="201" width="3" height="17" fill="#1b5e20"/>
<rect x="48" y="202" width="1" height="15" fill="#388e3c"/>
<rect x="53" y="141" width="1" height="61" fill="#1b5e20"/>
<rect x="52" y="158" width="3" height="44" fill="#1b5e20"/>
<rect x="53" y="159" width="1" height="42" fill="#388e3c"/>
<rect x="58" y="112" width="1" height="55" fill="#1b5e20"/>
<rect x="57" y="126" width="3" height="32" fill="#1b5e20"/>
<rect x="58" y="127" width="1" height="30" fill="#388e3c"/>
<rect x="63" y="102" width="1" height="89" fill="#b22833"/>
<rect x="62" y="126" width="3" height="44" fill="#b01d2a"/>
<rect x="63" y="127" width="1" height="42" fill="#b22833"/>
<rect x="68" y="147" width="1" height="76" fill="#b22833"/>
<rect x="67" y="170" width="3" height="33" fill="#b01d2a"/>
<rect x="68" y="171" width="1" height="31" fill="#b22833"/>
<rect x="73" y="175" width="1" height="36" fill="#1b5e20"/>
<rect x="72" y="187" width="3" height="15" fill="#1b5e20"/>
<rect x="73" y="188" width="1" height="13" fill="#388e3c"/>
<rect x="78" y="170" width="1" height="69" fill="#1b5e20"/>
<rect x="77" y="178" width="3" height="10" fill="#1b5e20"/>
<rect x="78" y="179" width="1" height="8" fill="#388e3c"/>
<rect x="83" y="158" width="1" height="42" fill="#1b5e20"/>
<rect x="82" y="178" width="3" height="2" fill="#1b5e20"/>
<rect x="88" y="168" width="1" height="47" fill="#b22833"/>
<rect x="87" y="178" width="3" height="20" fill="#b01d2a"/>
<rect x="88" y="179" width="1" height="18" fill="#b22833"/>
<rect x="93" y="183" width="1" height="41" fill="#1b5e20"/>
<rect x="92" y="190" width="3" height="8" fill="#1b5e20"/>
<rect x="93" y="191" width="1" height="6" fill="#388e3c"/>
<rect x="98" y="171" width="1" height="82" fill="#b22833"/>
<rect x="97" y="190" width="3" height="14" fill="#b01d2a"/>
<rect x="98" y="191" width="1" height="12" fill="#b22833"/>
<rect x="104" y="183" width="1" height="45" fill="#b22833"/>
<rect x="103" y="204" width="3" height="14" fill="#b01d2a"/>
<rect x="104" y="205" width="1" height="12" fill="#b22833"/>
<rect x="109" y="192" width="1" height="60" fill="#1b5e20"/>
<rect x="108" y="212" width="3" height="6" fill="#1b5e20"/>
<rect x="109" y="213" width="1" height="4" fill="#388e3c"/>
<rect x="114" y="199" width="1" height="32" fill="#1b5e20"/>
<rect x="113" y="200" width="3" height="13" fill="#1b5e20"/>
<rect x="114" y="201" width="1" height="11" fill="#388e3c"/>
<rect x="119" y="118" width="1" height="98" fill="#b22833"/>
<rect x="118" y="200" width="3" height="7" fill="#b01d2a"/>
<rect x="119" y="201" width="1" height="5" fill="#b22833"/>
<rect x="124" y="159" width="1" height="86" fill="#1b5e20"/>
<rect x="123" y="169" width="3" height="38" fill="#1b5e20"/>
<rect x="124" y="170" width="1" height="36" fill="#388e3c"/>
<rect x="129" y="147" width="1" height="50" fill="#1b5e20"/>
<rect x="128" y="150" width="3" height="19" fill="#1b5e20"/>
<rect x="129" y="151" width="1" height="17" fill="#388e3c"/>
<rect x="134" y="104" width="1" height="59" fill="#1b5e20"/>
<rect x="133" y="105" width="3" height="46" fill="#1b5e20"/>
<rect x="134" y="106" width="1" height="44" fill="#388e3c"/>
<rect x="139" y="97" width="1" height="92" fill="#b22833"/>
<rect x="138" y="105" width="3" height="38" fill="#b01d2a"/>
<rect x="139" y="106" width="1" height="36" fill="#b22833"/>
<rect x="144" y="135" width="1" height="22" fill="#b22833"/>
<rect x="143" y="142" width="3" height="12" fill="#b01d2a"/>
<rect x="144" y="143" width="1" height="10" fill="#b22833"/>
<rect x="149" y="143" width="1" height="31" fill="#1b5e20"/>
<rect x="148" y="148" width="3" height="6" fill="#1b5e20"/>
<rect x="149" y="149" width="1" height="4" fill="#388e3c"/>
<rect x="154" y="118" width="1" height="66" fill="#b22833"/>
<rect x="153" y="148" width="3" height="21" fill="#b01d2a"/>
<rect x="154" y="149" width="1" height="19" fill="#b22833"/>
<rect x="159" y="160" width="1" height="127" fill="#b22833"/>
<rect x="158" y="169" width="3" height="114" fill="#b01d2a"/>
<rect x="159" y="170" width="1" height="112" fill="#b22833"/>
<rect x="164" y="280" width="1" height="45" fill="#b22833"/>
<rect x="163" y="283" width="3" height="21" fill="#b01d2a"/>
<rect x="164" y="284" width="1" height="19" fill="#b22833"/>
<rect x="169" y="280" width="1" height="32" fill="#1b5e20"/>
<rect x="168" y="292" width="3" height="12" fill="#1b5e20"/>
<rect x="169" y="293" width="1" height="10" fill="#388e3c"/>
<rect x="174" y="290" width="1" height="45" fill="#b22833"/>
<rect x="173" y="292" width="3" height="34" fill="#b01d2a"/>
<rect x="174" y="293" width="1" height="32" fill="#b22833"/>
<rect x="179" y="312" width="1" height="32" fill="#1b5e20"/>
<rect x="178" y="324" width="3" height="1" fill="#1b5e20"/>
<rect x="184" y="321" width="1" height="42" fill="#b22833"/>
<rect x="183" y="324" width="3" height="24" fill="#b01d2a"/>
<rect x="184" y="325" width="1" height="22" fill="#b22833"/>
<rect x="189" y="299" width="1" height="59" fill="#1b5e20"/>
<rect x="188" y="316" width="3" height="32" fill="#1b5e20"/>
<rect x="189" y="317" width="1" height="30" fill="#388e3c"/>
<rect x="194" y="308" width="1" height="30" fill="#b22833"/>
<rect x="193" y="316" width="3" height="20" fill="#b01d2a"/>
<rect x="194" y="317" width="1" height="18" fill="#b22833"/>
<rect x="199" y="333" width="1" height="52" fill="#b22833"/>
<rect x="198" y="336" width="3" height="17" fill="#b01d2a"/>
<rect x="199" y="337" width="1" height="15" fill="#b22833"/>
<rect x="204" y="346" width="1" height="47" fill="#b22833"/>
<rect x="203" y="353" width="3" height="37" fill="#b01d2a"/>
<rect x="204" y="354" width="1" height="35" fill="#b22833"/>
<rect x="209" y="382" width="1" height="42" fill="#b22833"/>
<rect x="208" y="390" width="3" height="32" fill="#b01d2a"/>
<rect x="209" y="391" width="1" height="30" fill="#b22833"/>
<rect x="214" y="365" width="1" height="60" fill="#1b5e20"/>
<rect x="213" y="366" width="3" height="56" fill="#1b5e20"/>
<rect x="214" y="367" width="1" height="54" fill="#388e3c"/>
<rect x="219" y="360" width="1" height="21" fill="#b22833"/>
<rect x="218" y="366" width="3" height="15" fill="#b01d2a"/>
<rect x="219" y="367" width="1" height="13" fill="#b22833"/>
<rect x="224" y="363" width="1" height="40" fill="#1b5e20"/>
<rect x="223" y="377" width="3" height="4" fill="#1b5e20"/>
<rect x="224" y="378" width="1" height="2" fill="#388e3c"/>
<rect x="229" y="337" width="1" height="49" fill="#1b5e20"/>
<rect x="228" y="347" width="3" height="31" fill="#1b5e20"/>
<rect x="229" y="348" width="1" height="29" fill="#388e3c"/>
<rect x="234" y="308" width="1" height="61" fill="#1b5e20"/>
<rect x="233" y="312" width="3" height="36" fill="#1b5e20"/>
<rect x="234" y="313" width="1" height="34" fill="#388e3c"/>
<rect x="240" y="298" width="1" height="41" fill="#b22833"/>
<rect x="239" y="312" width="3" height="24" fill="#b01d2a"/>
<rect x="240" y="313" width="1" height="22" fill="#b22833"/>
<rect x="245" y="330" width="1" height="42" fill="#b22833"/>
<rect x="244" y="336" width="3" height="6" fill="#b01d2a"/>
<rect x="245" y="337" width="1" height="4" fill="#b22833"/>
<rect x="250" y="322" width="1" height="40" fill="#1b5e20"/>
<rect x="249" y="339" width="3" height="3" fill="#1b5e20"/>
<rect x="250" y="340" width="1" height="1" fill="#388e3c"/>
<rect x="255" y="295" width="1" height="62" fill="#b22833"/>
<rect x="254" y="339" width="3" height="16" fill="#b01d2a"/>
<rect x="255" y="340" width="1" height="14" fill="#b22833"/>
<rect x="260" y="267" width="1" height="88" fill="#1b5e20"/>
<rect x="259" y="275" width="3" height="80" fill="#1b5e20"/>
<rect x="260" y="276" width="1" height="78" fill="#388e3c"/>
<rect x="265" y="250" width="1" height="32" fill="#1b5e20"/>
<rect x="264" y="274" width="3" height="2" fill="#1b5e20"/>
<rect x="270" y="271" width="1" height="41" fill="#b22833"/>
<rect x="269" y="274" width="3" height="20" fill="#b01d2a"/>
<rect x="270" y="275" width="1" height="18" fill="#b22833"/>
<rect x="275" y="262" width="1" height="75" fill="#b22833"/>
<rect x="274" y="294" width="3" height="38" fill="#b01d2a"/>
<rect x="275" y="295" width="1" height="36" fill="#b22833"/>
<rect x="280" y="293" width="1" height="40" fill="#1b5e20"/>
<rect x="279" y="308" width="3" height="24" fill="#1b5e20"/>
<rect x="280" y="309" width="1" height="22" fill="#388e3c"/>
<rect x="285" y="307" width="1" height="68" fill="#b22833"/>
<rect x="284" y="308" width="3" height="4" fill="#b01d2a"/>
<rect x="285" y="309" width="1" height="2" fill="#b22833"/>
<rect x="290" y="281" width="1" height="35" fill="#1b5e20"/>
<rect x="289" y="282" width="3" height="30" fill="#1b5e20"/>
<rect x="290" y="283" width="1" height="28" fill="#388e3c"/>
<rect x="295" y="282" width="1" height="28" fill="#b22833"/>
<rect x="294" y="282" width="3" height="24" fill="#b01d2a"/>
<rect x="295" y="283" width="1" height="22" fill="#b22833"/>
<rect x="300" y="298" width="1" height="92" fill="#b22833"/>
<rect x="299" y="305" width="3" height="77" fill="#b01d2a"/>
<rect x="300" y="306" width="1" height="75" fill="#b22833"/>
<rect x="305" y="379" width="1" height="65" fill="#b22833"/>
<rect x="304" y="381" width="3" height="49" fill="#b01d2a"/>
<rect x="305" y="382" width="1" height="47" fill="#b22833"/>
<rect x="310" y="421" width="1" height="53" fill="#b22833"/>
<rect x="309" y="429" width="3" height="38" fill="#b01d2a"/>
<rect x="310" y="430" width="1" height="36" fill="#b22833"/>
<rect x="315" y="426" width="1" height="54" fill="#1b5e20"/>
<rect x="314" y="449" width="3" height="18" fill="#1b5e20"/>
<rect x="315" y="450" width="1" height="16" fill="#388e3c"/>
<rect x="320" y="406" width="1" height="44" fill="#1b5e20"/>
<rect x="319" y="415" width="3" height="35" fill="#1b5e20"/>
<rect x="320" y="416" width="1" height="33" fill="#388e3c"/>
<rect x="325" y="386" width="1" height="33" fill="#1b5e20"/>
<rect x="324" y="409" width="3" height="7" fill="#1b5e20"/>
<rect x="325" y="410" width="1" height="5" fill="#388e3c"/>
<rect x="330" y="399" width="1" height="39" fill="#b22833"/>
<rect x="329" y="409" width="3" height="17" fill="#b01d2a"/>
<rect x="330" y="410" width="1" height="15" fill="#b22833"/>
<rect x="335" y="407" width="1" height="57" fill="#b22833"/>
<rect x="334" y="425" width="3" height="13" fill="#b01d2a"/>
<rect x="335" y="426" width="1" height="11" fill="#b22833"/>
<rect x="340" y="411" width="1" height="47" fill="#1b5e20"/>
<rect x="339" y="418" width="3" height="20" fill="#1b5e20"/>
<rect x="340" y="419" width="1" height="18" fill="#388e3c"/>
<rect x="345" y="389" width="1" height="35" fill="#1b5e20"/>
<rect x="344" y="405" width="3" height="14" fill="#1b5e20"/>
<rect x="345" y="406" width="1" height="12" fill="#388e3c"/>
<rect x="350" y="390" width="1" height="42" fill="#1b5e20"/>
<rect x="349" y="399" width="3" height="7" fill="#1b5e20"/>
<rect x="350" y="400" width="1" height="5" fill="#388e3c"/>
<rect x="355" y="366" width="1" height="51" fill="#1b5e20"/>
<rect x="354" y="384" width="3" height="16" fill="#1b5e20"/>
<rect x="355" y="385" width="1" height="14" fill="#388e3c"/>
<rect x="360" y="372" width="1" height="69" fill="#b22833"/>
<rect x="359" y="384" width="3" height="39" fill="#b01d2a"/>
<rect x="360" y="385" width="1" height="37" fill="#b22833"/>
<rect x="365" y="382" width="1" height="50" fill="#1b5e20"/>
<rect x="364" y="388" width="3" height="35" fill="#1b5e20"/>
<rect x="365" y="389" width="1" height="33" fill="#388e3c"/>
<rect x="370" y="382" width="1" height="37" fill="#1b5e20"/>
<rect x="369" y="382" width="3" height="6" fill="#1b5e20"/>
<rect x="370" y="383" width="1" height="4" fill="#388e3c"/>
<rect x="376" y="360" width="1" height="34" fill="#b22833"/>
<rect x="375" y="382" width="3" height="2" fill="#b01d2a"/>
<rect x="381" y="286" width="1" height="99" fill="#1b5e20"/>
<rect x="380" y="288" width="3" height="96" fill="#1b5e20"/>
<rect x="381" y="289" width="1" height="94" fill="#388e3c"/>
<rect x="386" y="217" width="1" height="73" fill="#1b5e20"/>
<rect x="385" y="217" width="3" height="71" fill="#1b5e20"/>
<rect x="386" y="218" width="1" height="69" fill="#388e3c"/>
<rect x="391" y="203" width="1" height="33" fill="#1b5e20"/>
<rect x="390" y="211" width="3" height="7" fill="#1b5e20"/>
<rect x="391" y="212" width="1" height="5" fill="#388e3c"/>
<rect x="396" y="211" width="1" height="32" fill="#b22833"/>
<rect x="395" y="211" width="3" height="9" fill="#b01d2a"/>
<rect x="396" y="212" width="1" height="7" fill="#b22833"/>
<rect x="401" y="188" width="1" height="38" fill="#1b5e20"/>
<rect x="400" y="200" width="3" height="20" fill="#1b5e20"/>
<rect x="401" y="201" width="1" height="18" fill="#388e3c"/>
<rect x="406" y="183" width="1" height="25" fill="#1b5e20"/>
<rect x="405" y="190" width="3" height="10" fill="#1b5e20"/>
<rect x="406" y="191" width="1" height="8" fill="#388e3c"/>
<rect x="411" y="180" width="1" height="53" fill="#b22833"/>
<rect x="410" y="190" width="3" height="39" fill="#b01d2a"/>
<rect x="411" y="191" width="1" height="37" fill="#b22833"/>
<rect x="416" y="213" width="1" height="31" fill="#b22833"/>
<rect x="415" y="228" width="3" height="15" fill="#b01d2a"/>
<rect x="416" y="229" width="1" height="13" fill="#b22833"/>
<rect x="421" y="231" width="1" height="44" fill="#b22833"/>
<rect x="420" y="242" width="3" height="27" fill="#b01d2a"/>
<rect x="421" y="243" width="1" height="25" fill="#b22833"/>
<rect x="426" y="235" width="1" height="37" fill="#1b5e20"/>
<rect x="425" y="235" width="3" height="34" fill="#1b5e20"/>
<rect x="426" y="236" width="1" height="32" fill="#388e3c"/>
<rect x="431" y="202" width="1" height="49" fill="#1b5e20"/>
<rect x="430" y="212" width="3" height="24" fill="#1b5e20"/>
<rect x="431" y="213" width="1" height="22" fill="#388e3c"/>
<rect x="436" y="191" width="1" height="105" fill="#b22833"/>
<rect x="435" y="212" width="3" height="77" fill="#b01d2a"/>
<rect x="436" y="213" width="1" height="75" fill="#b22833"/>
<rect x="441" y="261" width="1" height="29" fill="#1b5e20"/>
<rect x="440" y="268" width="3" height="21" fill="#1b5e20"/>
<rect x="441" y="269" width="1" height="19" fill="#388e3c"/>
<rect x="446" y="221" width="1" height="61" fill="#1b5e20"/>
<rect x="445" y="229" width="3" height="39" fill="#1b5e20"/>
<rect x="446" y="230" width="1" height="37" fill="#388e3c"/>
<rect x="451" y="228" width="1" height="60" fill="#b22833"/>
<rect x="450" y="229" width="3" height="43" fill="#b01d2a"/>
<rect x="451" y="230" width="1" height="41" fill="#b22833"/>
<rect x="456" y="254" width="1" height="81" fill="#b22833"/>
<rect x="455" y="272" width="3" height="57" fill="#b01d2a"/>
<rect x="456" y="273" width="1" height="55" fill="#b22833"/>
<rect x="461" y="315" width="1" height="42" fill="#b22833"/>
<rect x="460" y="328" width="3" height="14" fill="#b01d2a"/>
<rect x="461" y="329" width="1" height="12" fill="#b22833"/>
<rect x="466" y="320" width="1" height="54" fill="#1b5e20"/>
<rect x="465" y="336" width="3" height="6" fill="#1b5e20"/>
<rect x="466" y="337" width="1" height="4" fill="#388e3c"/>
<rect x="471" y="331" width="1" height="57" fill="#b22833"/>
<rect x="470" y="336" width="3" height="48" fill="#b01d2a"/>
<rect x="471" y="337" width="1" height="46" fill="#b22833"/>
<rect x="476" y="379" width="1" height="48" fill="#b22833"/>
<rect x="475" y="383" width="3" height="35" fill="#b01d2a"/>
<rect x="476" y="384" width="1" height="33" fill="#b22833"/>
<rect x="481" y="401" width="1" height="31" fill="#b22833"/>
<rect x="480" y="417" width="3" height="11" fill="#b01d2a"/>
<rect x="481" y="418" width="1" height="9" fill="#b22833"/>
<rect x="486" y="395" width="1" height="36" fill="#1b5e20"/>
<rect x="485" y="424" width="3" height="4" fill="#1b5e20"/>
<rect x="486" y="425" width="1" height="2" fill="#388e3c"/>
<rect x="491" y="410" width="1" height="26" fill="#b22833"/>
<rect x="490" y="424" width="3" height="1" fill="#b01d2a"/>
<rect x="496" y="418" width="1" height="38" fill="#b22833"/>
<rect x="495" y="425" width="3" height="10" fill="#b01d2a"/>
<rect x="496" y="426" width="1" height="8" fill="#b22833"/>
<rect x="501" y="423" width="1" height="47" fill="#b22833"/>
<rect x="500" y="434" width="3" height="8" fill="#b01d2a"/>
<rect x="501" y="435" width="1" height="6" fill="#b22833"/>
<rect x="507" y="416" width="1" height="36" fill="#b22833"/>
<rect x="506" y="441" width="3" height="11" fill="#b01d2a"/>
<rect x="507" y="442" width="1" height="9" fill="#b22833"/>
<rect x="512" y="395" width="1" height="63" fill="#1b5e20"/>
<rect x="511" y="426" width="3" height="26" fill="#1b5e20"/>
<rect x="512" y="427" width="1" height="24" fill="#388e3c"/>
<rect x="517" y="407" width="1" height="24" fill="#1b5e20"/>
<rect x="516" y="419" width="3" height="7" fill="#1b5e20"/>
<rect x="517" y="420" width="1" height="5" fill="#388e3c"/>
<rect x="522" y="365" width="1" height="62" fill="#1b5e20"/>
<rect x="521" y="367" width="3" height="53" fill="#1b5e20"/>
<rect x="522" y="368" width="1" height="51" fill="#388e3c"/>
<rect x="527" y="352" width="1" height="24" fill="#1b5e20"/>
<rect x="526" y="357" width="3" height="10" fill="#1b5e20"/>
<rect x="527" y="358" width="1" height="8" fill="#388e3c"/>
<rect x="532" y="266" width="1" height="92" fill="#1b5e20"/>
<rect x="531" y="271" width="3" height="86" fill="#1b5e20"/>
<rect x="532" y="272" width="1" height="84" fill="#388e3c"/>
<rect x="537" y="267" width="1" height="28" fill="#b22833"/>
<rect x="536" y="271" width="3" height="19" fill="#b01d2a"/>
<rect x="537" y="272" width="1" height="17" fill="#b22833"/>
<rect x="542" y="264" width="1" height="44" fill="#1b5e20"/>
<rect x="541" y="279" width="3" height="11" fill="#1b5e20"/>
<rect x="542" y="280" width="1" height="9" fill="#388e3c"/>
<rect x="547" y="267" width="1" height="13" fill="#1b5e20"/>
<rect x="546" y="278" width="3" height="2" fill="#1b5e20"/>
<rect x="552" y="225" width="1" height="59" fill="#1b5e20"/>
<rect x="551" y="233" width="3" height="46" fill="#1b5e20"/>
<rect x="552" y="234" width="1" height="44" fill="#388e3c"/>
<rect x="557" y="204" width="1" height="46" fill="#b22833"/>
<rect x="556" y="233" width="3" height="10" fill="#b01d2a"/>
<rect x="557" y="234" width="1" height="8" fill="#b22833"/>
<rect x="562" y="236" width="1" height="29" fill="#b22833"/>
<rect x="561" y="242" width="3" height="18" fill="#b01d2a"/>
<rect x="562" y="243" width="1" height="16" fill="#b22833"/>
<rect x="567" y="222" width="1" height="64" fill="#b22833"/>
<rect x="566" y="259" width="3" height="25" fill="#b01d2a"/>
<rect x="567" y="260" width="1" height="23" fill="#b22833"/>
<rect x="572" y="272" width="1" height="31" fill="#b22833"/>
<rect x="571" y="283" width="3" height="19" fill="#b01d2a"/>
<rect x="572" y="284" width="1" height="17" fill="#b22833"/>
<rect x="577" y="300" width="1" height="50" fill="#b22833"/>
<rect x="576" y="302" width="3" height="43" fill="#b01d2a"/>
<rect x="577" y="303" width="1" height="41" fill="#b22833"/>
<rect x="582" y="338" width="1" height="57" fill="#b22833"/>
<rect x="581" y="344" width="3" height="37" fill="#b01d2a"/>
<rect x="582" y="345" width="1" height="35" fill="#b22833"/>
<rect x="587" y="379" width="1" height="32" fill="#b22833"/>
<rect x="586" y="380" width="3" height="20" fill="#b01d2a"/>
<rect x="587" y="381" width="1" height="18" fill="#b22833"/>
<rect x="592" y="379" width="1" height="30" fill="#b22833"/>
<rect x="591" y="399" width="3" height="4" fill="#b01d2a"/>
<rect x="592" y="400" width="1" height="2" fill="#b22833"/>
<rect x="597" y="374" width="1" height="31" fill="#1b5e20"/>
<rect x="596" y="388" width="3" height="15" fill="#1b5e20"/>
<rect x="597" y="389" width="1" height="13" fill="#388e3c"/>
<rect x="602" y="378" width="1" height="33" fill="#b22833"/>
<rect x="601" y="388" width="3" height="1" fill="#b01d2a"/>
<rect x="607" y="387" width="1" height="33" fill="#b22833"/>
<rect x="606" y="389" width="3" height="23" fill="#b01d2a"/>
<rect x="607" y="390" width="1" height="21" fill="#b22833"/>
<rect x="612" y="398" width="1" height="64" fill="#b22833"/>
<rect x="611" y="412" width="3" height="18" fill="#b01d2a"/>
<rect x="612" y="413" width="1" height="16" fill="#b22833"/>
<rect x="617" y="368" width="1" height="62" fill="#1b5e20"/>
<rect x="616" y="392" width="3" height="38" fill="#1b5e20"/>
<rect x="617" y="393" width="1" height="36" fill="#388e3c"/>
<rect x="622" y="371" width="1" height="27" fill="#1b5e20"/>
<rect x="621" y="372" width="3" height="20" fill="#1b5e20"/>
<rect x="622" y="373" width="1" height="18" fill="#388e3c"/>
<rect x="627" y="355" width="1" height="31" fill="#b22833"/>
<rect x="626" y="372" width="3" height="5" fill="#b01d2a"/>
<rect x="627" y="373" width="1" height="3" fill="#b22833"/>
<rect x="632" y="339" width="1" height="52" fill="#1b5e20"/>
<rect x="631" y="372" width="3" height="5" fill="#1b5e20"/>
<rect x="632" y="373" width="1" height="3" fill="#388e3c"/>
<rect x="637" y="351" width="1" height="63" fill="#1b5e20"/>
<rect x="636" y="358" width="3" height="14" fill="#1b5e20"/>
<rect x="637" y="359" width="1" height="12" fill="#388e3c"/>
<rect x="643" y="322" width="1" height="37" fill="#1b5e20"/>
<rect x="642" y="343" width="3" height="15" fill="#1b5e20"/>
<rect x="643" y="344" width="1" height="13" fill="#388e3c"/>
<rect x="648" y="334" width="1" height="58" fill="#b22833"/>
<rect x="647" y="343" width="3" height="41" fill="#b01d2a"/>
<rect x="648" y="344" width="1" height="39" fill="#b22833"/>
<rect x="653" y="382" width="1" height="29" fill="#b22833"/>
<rect x="652" y="384" width="3" height="27" fill="#b01d2a"/>
<rect x="653" y="385" width="1" height="25" fill="#b22833"/>
<rect x="658" y="407" width="1" height="45" fill="#b22833"/>
<rect x="657" y="410" width="3" height="31" fill="#b01d2a"/>
<rect x="658" y="411" width="1" height="29" fill="#b22833"/>
<rect x="663" y="421" width="1" height="31" fill="#1b5e20"/>
<rect x="662" y="432" width="3" height="9" fill="#1b5e20"/>
<rect x="663" y="433" width="1" height="7" fill="#388e3c"/>
<rect x="668" y="342" width="1" height="138" fill="#b22833"/>
<rect x="667" y="432" width="3" height="41" fill="#b01d2a"/>
<rect x="668" y="433" width="1" height="39" fill="#b22833"/>
<rect x="673" y="472" width="1" height="111" fill="#b22833"/>
<rect x="672" y="472" width="3" height="111" fill="#b01d2a"/>
<rect x="673" y="473" width="1" height="109" fill="#b22833"/>
<rect x="678" y="548" width="1" height="68" fill="#1b5e20"/>
<rect x="677" y="571" width="3" height="12" fill="#1b5e20"/>
<rect x="678" y="572" width="1" height="10" fill="#388e3c"/>
<rect x="683" y="548" width="1" height="68" fill="#b22833"/>
<rect x="682" y="571" width="3" height="15" fill="#b01d2a"/>
<rect x="683" y="572" width="1" height="13" fill="#b22833"/>
<rect x="688" y="558" width="1" height="54" fill="#b22833"/>
<rect x="687" y="586" width="3" height="4" fill="#b01d2a"/>
<rect x="688" y="587" width="1" height="2" fill="#b22833"/>
<rect x="693" y="527" width="1" height="77" fill="#1b5e20"/>
<rect x="692" y="530" width="3" height="60" fill="#1b5e20"/>
<rect x="693" y="531" width="1" height="58" fill="#388e3c"/>
<rect x="698" y="489" width="1" height="42" fill="#1b5e20"/>
<rect x="697" y="502" width="3" height="29" fill="#1b5e20"/>
<rect x="698" y="503" width="1" height="27" fill="#388e3c"/>
<rect x="703" y="495" width="1" height="31" fill="#b22833"/>
<rect x="702" y="502" width="3" height="6" fill="#b01d2a"/>
<rect x="703" y="503" width="1" height="4" fill="#b22833"/>
<rect x="708" y="479" width="1" height="31" fill="#1b5e20"/>
<rect x="707" y="488" width="3" height="20" fill="#1b5e20"/>
<rect x="708" y="489" width="1" height="18" fill="#388e3c"/>
<rect x="713" y="468" width="1" height="46" fill="#b22833"/>
<rect x="712" y="488" width="3" height="20" fill="#b01d2a"/>
<rect x="713" y="489" width="1" height="18" fill="#b22833"/>
<rect x="718" y="413" width="1" height="96" fill="#1b5e20"/>
<rect x="717" y="424" width="3" height="84" fill="#1b5e20"/>
<rect x="718" y="425" width="1" height="82" fill="#388e3c"/>
<rect x="723" y="422" width="1" height="24" fill="#b22833"/>
<rect x="722" y="424" width="3" height="10" fill="#b01d2a"/>
<rect x="723" y="425" width="1" height="8" fill="#b22833"/>
<rect x="728" y="395" width="1" height="60" fill="#1b5e20"/>
<rect x="727" y="415" width="3" height="19" fill="#1b5e20"/>
<rect x="728" y="416" width="1" height="17" fill="#388e3c"/>
<rect x="733" y="365" width="1" height="61" fill="#1b5e20"/>
<rect x="732" y="410" width="3" height="6" fill="#1b5e20"/>
<rect x="733" y="411" width="1" height="4" fill="#388e3c"/>
<rect x="738" y="388" width="1" height="42" fill="#1b5e20"/>
<rect x="737" y="392" width="3" height="18" fill="#1b5e20"/>
<rect x="738" y="393" width="1" height="16" fill="#388e3c"/>
<rect x="743" y="329" width="1" height="78" fill="#1b5e20"/>
<rect x="742" y="362" width="3" height="30" fill="#1b5e20"/>
<rect x="743" y="363" width="1" height="28" fill="#388e3c"/>
<rect x="748" y="362" width="1" height="40" fill="#b22833"/>
<rect x="747" y="362" width="3" height="36" fill="#b01d2a"/>
<rect x="748" y="363" width="1" height="34" fill="#b22833"/>
<rect x="753" y="376" width="1" height="52" fill="#b22833"/>
<rect x="752" y="397" width="3" height="7" fill="#b01d2a"/>
<rect x="753" y="398" width="1" height="5" fill="#b22833"/>
<rect x="758" y="393" width="1" height="45" fill="#b22833"/>
<rect x="757" y="403" width="3" height="6" fill="#b01d2a"/>
<rect x="758" y="404" width="1" height="4" fill="#b22833"/>
<rect x="763" y="382" width="1" height="67" fill="#b22833"/>
<rect x="762" y="408" width="3" height="7" fill="#b01d2a"/>
<rect x="763" y="409" width="1" height="5" fill="#b22833"/>
<rect x="768" y="384" width="1" height="44" fill="#1b5e20"/>
<rect x="767" y="386" width="3" height="29" fill="#1b5e20"/>
<rect x="768" y="387" width="1" height="27" fill="#388e3c"/>
<rect x="773" y="338" width="1" height="55" fill="#1b5e20"/>
<rect x="772" y="365" width="3" height="21" fill="#1b5e20"/>
<rect x="773" y="366" width="1" height="19" fill="#388e3c"/>
<rect x="779" y="365" width="1" height="56" fill="#b22833"/>
<rect x="778" y="365" width="3" height="45" fill="#b01d2a"/>
<rect x="779" y="366" width="1" height="43" fill="#b22833"/>
<rect x="784" y="394" width="1" height="46" fill="#1b5e20"/>
<rect x="783" y="400" width="3" height="9" fill="#1b5e20"/>
<rect x="784" y="401" width="1" height="7" fill="#388e3c"/>
<rect x="789" y="384" width="1" height="44" fill="#b22833"/>
<rect x="788" y="400" width="3" height="19" fill="#b01d2a"/>
<rect x="789" y="401" width="1" height="17" fill="#b22833"/>
<rect x="794" y="366" width="1" height="68" fill="#1b5e20"/>
<rect x="793" y="371" width="3" height="48" fill="#1b5e20"/>
<rect x="794" y="372" width="1" height="46" fill="#388e3c"/>
<rect x="799" y="370" width="1" height="26" fill="#b22833"/>
<rect x="798" y="371" width="3" height="22" fill="#b01d2a"/>
<rect x="799" y="372" width="1" height="20" fill="#b22833"/>
<rect x="804" y="388" width="1" height="62" fill="#b22833"/>
<rect x="803" y="393" width="3" height="39" fill="#b01d2a"/>
<rect x="804" y="394" width="1" height="37" fill="#b22833"/>
<rect x="809" y="410" width="1" height="52" fill="#b22833"/>
<rect x="808" y="431" width="3" height="9" fill="#b01d2a"/>
<rect x="809" y="432" width="1" height="7" fill="#b22833"/>
<rect x="814" y="396" width="1" height="60" fill="#1b5e20"/>
<rect x="813" y="430" width="3" height="10" fill="#1b5e20"/>
<rect x="814" y="431" width="1" height="8" fill="#388e3c"/>
<rect x="819" y="420" width="1" height="52" fill="#b22833"/>
<rect x="818" y="430" width="3" height="38" fill="#b01d2a"/>
<rect x="819" y="431" width="1" height="36" fill="#b22833"/>
<rect x="824" y="456" width="1" height="46" fill="#1b5e20"/>
<rect x="823" y="461" width="3" height="7" fill="#1b5e20"/>
<rect x="824" y="462" width="1" height="5" fill="#388e3c"/>
<rect x="829" y="378" width="1" height="85" fill="#1b5e20"/>
<rect x="828" y="387" width="3" height="75" fill="#1b5e20"/>
<rect x="829" y="388" width="1" height="73" fill="#388e3c"/>
<rect x="834" y="336" width="1" height="57" fill="#1b5e20"/>
<rect x="833" y="354" width="3" height="33" fill="#1b5e20"/>
<rect x="834" y="355" width="1" height="31" fill="#388e3c"/>
<rect x="839" y="293" width="1" height="75" fill="#1b5e20"/>
<rect x="838" y="325" width="3" height="30" fill="#1b5e20"/>
<rect x="839" y="326" width="1" height="28" fill="#388e3c"/>
<rect x="844" y="287" width="1" height="45" fill="#b22833"/>
<rect x="843" y="325" width="3" height="3" fill="#b01d2a"/>
<rect x="844" y="326" width="1" height="1" fill="#b22833"/>
<rect x="849" y="318" width="1" height="54" fill="#b22833"/>
<rect x="848" y="327" width="3" height="28" fill="#b01d2a"/>
<rect x="849" y="328" width="1" height="26" fill="#b22833"/>
<rect x="854" y="299" width="1" height="56" fill="#1b5e20"/>
<rect x="853" y="325" width="3" height="30" fill="#1b5e20"/>
<rect x="854" y="326" width="1" height="28" fill="#388e3c"/>
<rect x="859" y="306" width="1" height="38" fill="#b22833"/>
<rect x="858" y="325" width="3" height="11" fill="#b01d2a"/>
<rect x="859" y="326" width="1" height="9" fill="#b22833"/>
<rect x="864" y="320" width="1" height="18" fill="#1b5e20"/>
<rect x="863" y="329" width="3" height="7" fill="#1b5e20"/>
<rect x="864" y="330" width="1" height="5" fill="#388e3c"/>
<rect x="869" y="268" width="1" height="74" fill="#1b5e20"/>
<rect x="868" y="269" width="3" height="61" fill="#1b5e20"/>
<rect x="869" y="270" width="1" height="59" fill="#388e3c"/>
<rect x="874" y="217" width="1" height="58" fill="#1b5e20"/>
<rect x="873" y="239" width="3" height="31" fill="#1b5e20"/>
<rect x="874" y="240" width="1" height="29" fill="#388e3c"/>
<rect x="879" y="202" width="1" height="47" fill="#1b5e20"/>
<rect x="878" y="203" width="3" height="37" fill="#1b5e20"/>
<rect x="879" y="204" width="1" height="35" fill="#388e3c"/>
<rect x="884" y="181" width="1" height="39" fill="#b22833"/>
<rect x="883" y="203" width="3" height="1" fill="#b01d2a"/>
<rect x="889" y="178" width="1" height="34" fill="#1b5e20"/>
<rect x="888" y="179" width="3" height="25" fill="#1b5e20"/>
<rect x="889" y="180" width="1" height="23" fill="#388e3c"/>
<rect x="894" y="156" width="1" height="41" fill="#1b5e20"/>
<rect x="893" y="160" width="3" height="20" fill="#1b5e20"/>
<rect x="894" y="161" width="1" height="18" fill="#388e3c"/>
<rect x="899" y="119" width="1" height="142" fill="#b22833"/>
<rect x="898" y="160" width="3" height="94" fill="#b01d2a"/>
<rect x="899" y="161" width="1" height="92" fill="#b22833"/>
<rect x="904" y="240" width="1" height="64" fill="#b22833"/>
<rect x="903" y="253" width="3" height="33" fill="#b01d2a"/>
<rect x="904" y="254" width="1" height="31" fill="#b22833"/>
<rect x="910" y="266" width="1" height="46" fill="#b22833"/>
<rect x="909" y="285" width="3" height="26" fill="#b01d2a"/>
<rect x="910" y="286" width="1" height="24" fill="#b22833"/>
<rect x="915" y="298" width="1" height="42" fill="#b22833"/>
<rect x="914" y="310" width="3" height="10" fill="#b01d2a"/>
<rect x="915" y="311" width="1" height="8" fill="#b22833"/>
<rect x="920" y="310" width="1" height="91" fill="#b22833"/>
<rect x="919" y="319" width="3" height="78" fill="#b01d2a"/>
<rect x="920" y="320" width="1" height="76" fill="#b22833"/>
<rect x="925" y="386" width="1" height="36" fill="#b22833"/>
<rect x="924" y="396" width="3" height="18" fill="#b01d2a"/>
<rect x="925" y="397" width="1" height="16" fill="#b22833"/>
<rect x="930" y="381" width="1" height="44" fill="#b22833"/>
<rect x="929" y="413" width="3" height="6" fill="#b01d2a"/>
<rect x="930" y="414" width="1" height="4" fill="#b22833"/>
<rect x="935" y="318" width="1" height="124" fill="#1b5e20"/>
<rect x="934" y="318" width="3" height="101" fill="#1b5e20"/>
<rect x="935" y="319" width="1" height="99" fill="#388e3c"/>
<rect x="940" y="280" width="1" height="43" fill="#1b5e20"/>
<rect x="939" y="284" width="3" height="35" fill="#1b5e20"/>
<rect x="940" y="285" width="1" height="33" fill="#388e3c"/>
<rect x="945" y="273" width="1" height="51" fill="#b22833"/>
<rect x="944" y="284" width="3" height="32" fill="#b01d2a"/>
<rect x="945" y="285" width="1" height="30" fill="#b22833"/>
<rect x="950" y="295" width="1" height="38" fill="#b22833"/>
<rect x="949" y="315" width="3" height="5" fill="#b01d2a"/>
<rect x="950" y="316" width="1" height="3" fill="#b22833"/>
<rect x="955" y="284" width="1" height="38" fill="#1b5e20"/>
<rect x="954" y="296" width="3" height="24" fill="#1b5e20"/>
<rect x="955" y="297" width="1" height="22" fill="#388e3c"/>
<rect x="960" y="259" width="1" height="46" fill="#1b5e20"/>
<rect x="959" y="286" width="3" height="11" fill="#1b5e20"/>
<rect x="960" y="287" width="1" height="9" fill="#388e3c"/>
<rect x="965" y="254" width="1" height="33" fill="#1b5e20"/>
<rect x="964" y="261" width="3" height="25" fill="#1b5e20"/>
<rect x="965" y="262" width="1" height="23" fill="#388e3c"/>
<rect x="970" y="243" width="1" height="45" fill="#b22833"/>
<rect x="969" y="261" width="3" height="22" fill="#b01d2a"/>
<rect x="970" y="262" width="1" height="20" fill="#b22833"/>
<rect x="975" y="261" width="1" height="33" fill="#1b5e20"/>
<rect x="974" y="279" width="3" height="4" fill="#1b5e20"/>
<rect x="975" y="280" width="1" height="2" fill="#388e3c"/>
<rect x="980" y="257" width="1" height="47" fill="#1b5e20"/>
<rect x="979" y="275" width="3" height="5" fill="#1b5e20"/>
<rect x="980" y="276" width="1" height="3" fill="#388e3c"/>
<rect x="985" y="254" width="1" height="50" fill="#b22833"/>
<rect x="984" y="275" width="3" height="29" fill="#b01d2a"/>
<rect x="985" y="276" width="1" height="27" fill="#b22833"/>
<rect x="990" y="302" width="1" height="41" fill="#b22833"/>
<rect x="989" y="303" width="3" height="19" fill="#b01d2a"/>
<rect x="990" y="304" width="1" height="17" fill="#b22833"/>
<rect x="995" y="291" width="1" height="43" fill="#b22833"/>
<rect x="994" y="321" width="3" height="13" fill="#b01d2a"/>
<rect x="995" y="322" width="1" height="11" fill="#b22833"/>
<rect x="1000" y="326" width="1" height="85" fill="#b22833"/>
<rect x="999" y="334" width="3" height="64" fill="#b01d2a"/>
<rect x="1000" y="335" width="1" height="62" fill="#b22833"/>
<rect x="1005" y="389" width="1" height="36" fill="#1b5e20"/>
<rect x="1004" y="395" width="3" height="3" fill="#1b5e20"/>
<rect x="1005" y="396" width="1" height="1" fill="#388e3c"/>
<rect x="1010" y="346" width="1" height="71" fill="#1b5e20"/>
<rect x="1009" y="378" width="3" height="17" fill="#1b5e20"/>
<rect x="1010" y="379" width="1" height="15" fill="#388e3c"/>
<rect x="1015" y="374" width="1" height="37" fill="#b22833"/>
<rect x="1014" y="378" width="3" height="9" fill="#b01d2a"/>
<rect x="1015" y="379" width="1" height="7" fill="#b22833"/>
<rect x="1020" y="360" width="1" height="39" fill="#b22833"/>
<rect x="1019" y="386" width="3" height="13" fill="#b01d2a"/>
<rect x="1020" y="387" width="1" height="11" fill="#b22833"/>
<rect x="1025" y="385" width="1" height="32" fill="#b22833"/>
<rect x="1024" y="398" width="3" height="9" fill="#b01d2a"/>
<rect x="1025" y="399" width="1" height="7" fill="#b22833"/>
<rect x="1030" y="381" width="1" height="65" fill="#b22833"/>
<rect x="1029" y="406" width="3" height="14" fill="#b01d2a"/>
<rect x="1030" y="407" width="1" height="12" fill="#b22833"/>
<rect x="1035" y="345" width="1" height="75" fill="#1b5e20"/>
<rect x="1034" y="377" width="3" height="43" fill="#1b5e20"/>
<rect x="1035" y="378" width="1" height="41" fill="#388e3c"/>
<rect x="1040" y="364" width="1" height="18" fill="#1b5e20"/>
<rect x="1039" y="370" width="3" height="8" fill="#1b5e20"/>
<rect x="1040" y="371" width="1" height="6" fill="#388e3c"/>
</g>
</g>
<g clip-path="url(#cr)">
<path d="M0.0,792.3C2.2,789.5 9.4,779.9 13.2,775.9C17.0,772.0 19.5,771.5 22.8,768.5C26.2,765.6 29.6,761.2 33.4,758.0C37.2,754.8 41.6,752.2 45.7,749.2C49.8,746.2 53.9,742.6 58.0,740.1C62.1,737.6 66.2,735.7 70.3,734.3C74.4,732.9 78.8,732.2 82.6,731.6C86.4,731.1 89.3,730.7 93.1,731.1C97.0,731.5 101.6,733.3 105.4,734.3C109.3,735.2 112.2,735.8 116.0,736.9C119.8,738.0 124.2,740.2 128.3,740.8C132.4,741.4 136.5,740.3 140.6,740.4C144.7,740.5 148.8,739.8 152.9,741.3C157.0,742.8 161.1,746.3 165.2,749.2C169.3,752.1 173.4,755.7 177.5,758.9C181.6,762.1 186.9,766.1 189.8,768.5C192.7,771.0 193.0,771.1 195.0,773.5C197.0,775.8 199.7,779.6 202.0,782.6C204.4,785.6 206.7,788.8 209.1,791.4C211.4,794.0 213.6,796.1 216.1,798.4C218.6,800.8 221.7,804.1 224.0,805.4C226.3,806.8 227.1,806.2 230.1,806.5C233.2,806.8 238.4,807.2 242.5,807.2C246.6,807.2 250.9,807.0 254.8,806.3C258.6,805.7 262.1,804.3 265.3,803.3C268.5,802.4 271.2,801.6 274.1,800.5C277.0,799.5 279.7,798.4 282.9,797.2C286.1,796.0 290.8,794.2 293.4,793.5C296.1,792.8 296.3,792.5 298.7,793.1C301.0,793.8 304.5,795.9 307.5,797.2C310.4,798.4 313.3,799.8 316.3,800.7C319.2,801.6 322.1,801.6 325.1,802.8C328.0,804.0 331.2,806.7 333.8,808.1C336.5,809.5 338.2,810.2 340.9,811.1C343.5,812.0 347.0,812.5 349.7,813.4C352.3,814.2 354.2,815.3 356.7,816.0C359.2,816.7 362.3,817.6 364.6,817.8C366.9,817.9 368.8,817.3 370.7,816.9C372.7,816.4 374.3,816.1 376.0,815.1C377.8,814.1 379.2,812.6 381.3,810.7C383.3,808.8 386.9,805.1 388.3,803.7C389.8,802.3 388.3,803.8 390.0,802.3C391.7,800.8 395.9,797.2 398.8,794.6C401.7,791.9 404.6,788.5 407.6,786.1C410.5,783.7 413.4,781.9 416.4,780.0C419.3,778.1 422.2,776.3 425.1,774.7C428.1,773.1 431.0,771.6 433.9,770.3C436.9,769.0 440.7,767.5 442.7,766.8C444.8,766.1 444.9,766.0 446.2,765.9C447.6,765.8 448.6,765.6 450.6,766.4C452.7,767.3 455.8,769.4 458.5,771.2C461.3,772.9 464.1,774.2 467.3,776.8C470.6,779.4 474.4,784.0 477.9,787.0C481.4,790.0 484.6,791.8 488.4,794.9C492.2,798.0 497.2,802.8 500.7,805.4C504.2,808.1 506.6,809.0 509.5,810.7C512.4,812.4 515.7,814.7 518.3,815.6C520.9,816.6 523.0,816.8 525.3,816.5C527.7,816.3 530.0,815.1 532.4,814.2C534.7,813.4 536.7,812.7 539.4,811.2C542.0,809.8 545.2,807.7 548.2,805.4C551.1,803.2 554.0,799.9 557.0,797.5C559.9,795.2 563.1,793.1 565.7,791.4C568.4,789.7 570.4,788.3 572.8,787.3C575.1,786.4 577.8,785.9 579.8,785.6C581.8,785.2 582.4,785.0 585.0,785.2C587.6,785.5 592.6,786.1 595.5,787.0C598.5,787.9 599.9,789.0 602.6,790.5C605.2,792.1 608.4,794.6 611.4,796.3C614.3,798.1 617.2,799.5 620.1,801.1C623.1,802.6 626.0,804.3 628.9,805.4C631.9,806.6 634.8,807.5 637.7,808.1C640.7,808.7 643.6,808.7 646.5,809.0C649.4,809.3 652.4,809.5 655.3,809.8C658.2,810.1 661.2,809.8 664.1,810.7C667.0,811.6 669.9,813.6 672.9,815.1C675.8,816.6 678.7,817.9 681.7,819.5C684.6,821.1 687.5,823.3 690.4,824.8C693.4,826.2 696.3,827.0 699.2,828.3C702.2,829.6 705.7,831.7 708.0,832.7C710.4,833.7 711.0,834.3 713.3,834.4C715.6,834.6 719.2,834.2 722.1,833.6C725.0,832.9 728.2,831.6 730.9,830.4C733.5,829.2 735.3,828.6 737.9,826.5C740.5,824.4 743.5,821.0 746.7,817.8C749.9,814.5 754.0,809.8 757.2,807.2C760.5,804.6 763.1,803.7 766.0,801.9C768.9,800.2 772.5,797.9 774.8,796.7C777.1,795.4 777.7,795.2 780.0,794.6C782.3,793.9 785.9,793.3 788.8,792.8C791.7,792.3 794.6,791.4 797.6,791.4C800.5,791.4 803.4,792.1 806.4,792.8C809.3,793.5 812.2,794.6 815.1,795.4C818.1,796.2 821.0,797.5 823.9,797.5C826.9,797.6 829.8,796.4 832.7,795.8C835.7,795.2 838.6,794.7 841.5,794.0C844.4,793.4 847.4,792.5 850.3,791.7C853.2,790.9 856.4,790.0 859.1,789.3C861.7,788.5 863.8,788.5 866.1,787.3C868.5,786.2 870.5,784.7 873.1,782.6C875.8,780.5 879.3,777.3 881.9,774.7C884.6,772.1 886.9,769.1 889.0,766.8C891.0,764.4 892.2,762.0 894.2,760.6C896.3,759.3 898.9,758.8 901.3,758.5C903.6,758.3 905.7,758.7 908.3,759.2C910.9,759.7 914.4,760.5 917.1,761.5C919.7,762.5 922.1,764.0 924.1,765.0C926.2,766.1 927.1,766.9 929.4,767.7C931.7,768.4 935.1,768.4 938.0,769.6C940.9,770.7 943.9,772.8 946.8,774.5C949.7,776.2 952.6,778.1 955.6,779.8C958.5,781.4 961.4,783.5 964.4,784.5C967.3,785.5 969.6,785.8 973.1,785.9C976.7,786.0 981.9,785.6 985.5,785.0C989.0,784.4 991.9,782.8 994.2,782.4C996.6,782.0 997.2,781.8 999.5,782.4C1001.9,783.0 1004.8,784.6 1008.3,785.9C1011.8,787.2 1016.8,788.7 1020.6,790.3C1024.4,791.9 1027.8,794.0 1031.1,795.6C1034.5,797.2 1038.9,799.2 1040.5,800.0" fill="none" stroke="#8f929b" stroke-width="1.1" stroke-linejoin="round" stroke-linecap="butt"/>
<polyline points="0.0,765.0 3.0,761.5 8.0,760.6 13.0,747.5 18.0,743.6 23.0,747.5 28.0,726.7 33.0,728.5 38.0,728.1 43.0,731.6 48.0,727.8 53.0,718.5 58.0,712.8 63.0,729.0 68.0,740.1 73.0,736.6 78.0,734.8 83.0,735.1 88.0,741.8 93.0,740.4 98.0,746.0 104.0,750.6 109.0,749.2 114.0,746.0 119.0,748.3 124.0,737.8 129.0,733.4 134.0,722.8 139.0,737.8 144.0,742.2 149.0,740.8 154.0,750.1 159.0,788.8 164.0,794.9 169.0,791.4 174.0,801.1 179.0,801.6 184.0,808.4 189.0,798.1 194.0,804.6 199.0,809.0 204.0,819.5 209.0,827.9 214.0,809.5 219.0,813.4 224.0,812.5 229.0,801.6 234.0,791.9 240.0,799.3 245.0,800.7 250.0,800.2 255.0,804.6 260.0,780.5 265.0,780.0 270.0,786.5 275.0,798.4 280.0,791.0 285.0,791.9 290.0,782.6 295.0,790.5 300.0,813.4 305.0,825.7 310.0,834.4 315.0,828.6 320.0,817.8 325.0,816.0 330.0,820.0 335.0,823.4 340.0,816.3 345.0,812.5 350.0,810.7 355.0,805.4 360.0,816.5 365.0,805.4 370.0,803.3 376.0,804.0 381.0,774.7 386.0,756.2 391.0,755.4 396.0,758.0 401.0,752.7 406.0,750.4 411.0,763.6 416.0,768.5 421.0,776.8 426.0,767.7 431.0,761.9 436.0,786.1 441.0,780.0 446.0,770.3 451.0,783.5 456.0,798.4 461.0,801.9 466.0,800.7 471.0,813.4 476.0,821.3 481.0,823.9 486.0,823.0 491.0,823.4 496.0,825.7 501.0,827.9 507.0,830.1 512.0,821.3 517.0,818.6 522.0,801.1 527.0,797.9 532.0,772.6 537.0,778.6 542.0,775.6 547.0,775.2 552.0,762.9 557.0,765.9 562.0,772.1 567.0,780.0 572.0,786.1 577.0,799.3 582.0,809.8 587.0,815.5 592.0,816.3 597.0,811.6 602.0,811.8 607.0,818.1 612.0,823.6 617.0,810.4 622.0,803.3 627.0,804.9 632.0,803.3 637.0,797.5 643.0,792.8 648.0,807.2 653.0,816.0 658.0,824.3 663.0,821.6 668.0,833.9 673.0,860.3 678.0,856.1 683.0,859.4 688.0,860.3 693.0,838.0 698.0,827.9 703.0,828.8 708.0,822.5 713.0,827.4 718.0,800.5 723.0,802.8 728.0,797.2 733.0,795.8 738.0,790.5 743.0,780.8 748.0,791.9 753.0,794.0 758.0,795.8 763.0,797.5 768.0,788.4 773.0,781.7 779.0,796.3 784.0,794.0 789.0,799.3 794.0,785.8 799.0,791.4 804.0,803.3 809.0,806.0 814.0,803.2 819.0,814.2 824.0,812.1 829.0,787.0 834.0,777.3 839.0,769.4 844.0,770.7 849.0,779.4 854.0,771.2 859.0,774.3 864.0,772.6 869.0,755.9 874.0,747.8 879.0,739.5 884.0,739.5 889.0,733.7 894.0,729.3 899.0,763.3 904.0,772.9 910.0,781.2 915.0,784.0 920.0,806.3 925.0,810.4 930.0,811.6 935.0,783.5 940.0,775.4 945.0,784.1 950.0,785.0 955.0,778.9 960.0,776.2 965.0,770.1 970.0,776.6 975.0,775.7 980.0,774.8 985.0,784.1 990.0,789.1 995.0,792.9 1000.0,811.0 1005.0,810.5 1010.0,805.6 1015.0,808.8 1020.0,811.7 1025.0,814.6 1030.0,817.2 1035.0,802.6 1040.0,800.3" fill="none" stroke="#0c3299" stroke-width="1.15" stroke-linejoin="round" stroke-linecap="round"/>
</g>
<g clip-path="url(#c265)"><text x="1070.2" y="67.2" fill="#131722" textLength="48.3" lengthAdjust="spacingAndGlyphs">26.50000</text></g>
<g><text x="1070.2" y="114.8" fill="#131722" textLength="48.3" lengthAdjust="spacingAndGlyphs">26.00000</text></g>
<g><text x="1070.2" y="162.2" fill="#131722" textLength="48.3" lengthAdjust="spacingAndGlyphs">25.50000</text></g>
<g><text x="1070.2" y="209.9" fill="#131722" textLength="48.3" lengthAdjust="spacingAndGlyphs">25.00000</text></g>
<g><text x="1070.2" y="590.7" fill="#131722" textLength="48.3" lengthAdjust="spacingAndGlyphs">21.00000</text></g>
<g><text x="1070.2" y="638.3" fill="#131722" textLength="48.3" lengthAdjust="spacingAndGlyphs">20.50000</text></g>
<g><text x="1070.2" y="685.9" fill="#131722" textLength="48.3" lengthAdjust="spacingAndGlyphs">20.00000</text></g>
<rect x="1062" y="72" width="62" height="17" rx="1.2" fill="#000"/>
<text x="1070.2" y="85.1" fill="#fff" font-weight="bold" textLength="48.3" lengthAdjust="spacingAndGlyphs">26.14716</text>
<rect x="1015" y="89" width="46" height="17" rx="1.5" fill="#e3effd"/>
<text x="1019.3" y="102.2" fill="#131722" textLength="36.3" lengthAdjust="spacingAndGlyphs">Yüksek</text>
<rect x="1062" y="89" width="62" height="17" rx="1.2" fill="#e3effd"/>
<text x="1070.2" y="102.1" fill="#131722" textLength="48.3" lengthAdjust="spacingAndGlyphs">26.13540</text>
<rect x="1062" y="130" width="62" height="17" rx="1.2" fill="#000"/>
<text x="1070.2" y="143.1" fill="#fff" font-weight="bold" textLength="48.3" lengthAdjust="spacingAndGlyphs">25.71122</text>
<rect x="1062" y="172" width="62" height="17" rx="1.2" fill="#000"/>
<text x="1070.2" y="185.1" fill="#fff" font-weight="bold" textLength="48.3" lengthAdjust="spacingAndGlyphs">25.27038</text>
<rect x="1062" y="216" width="62" height="17" rx="1.2" fill="#000"/>
<text x="1070.2" y="229.1" fill="#fff" font-weight="bold" textLength="48.3" lengthAdjust="spacingAndGlyphs">24.80398</text>
<rect x="1062" y="244" width="62" height="17" rx="1.2" fill="#000"/>
<text x="1070.2" y="257.1" fill="#fff" font-weight="bold" textLength="48.3" lengthAdjust="spacingAndGlyphs">24.50718</text>
<rect x="1062" y="277" width="62" height="17" rx="1.2" fill="#07051a"/>
<text x="1070.2" y="290.1" fill="#fff" font-weight="bold" textLength="48.3" lengthAdjust="spacingAndGlyphs">24.04533</text>
<rect x="1062" y="294" width="62" height="17" rx="1.2" fill="#ff9800"/>
<text x="1070.2" y="307.1" fill="#15120c" textLength="48.3" lengthAdjust="spacingAndGlyphs">23.63164</text>
<rect x="1062" y="311" width="62" height="17" rx="1.2" fill="#000"/>
<text x="1070.2" y="324.1" fill="#fff" font-weight="bold" textLength="48.3" lengthAdjust="spacingAndGlyphs">23.62469</text>
<rect x="1062" y="328" width="62" height="17" rx="1.2" fill="#b22833"/>
<text x="1070.2" y="341.1" fill="#fff" font-weight="bold" textLength="48.3" lengthAdjust="spacingAndGlyphs">23.62400</text>
<rect x="1062" y="345" width="62" height="17" rx="1.2" fill="#07051a"/>
<text x="1070.2" y="358.1" fill="#fff" font-weight="bold" textLength="48.3" lengthAdjust="spacingAndGlyphs">23.27729</text>
<rect x="1062" y="362" width="62" height="31" rx="1.2" fill="#388e3c"/>
<text x="1070.2" y="375.1" fill="#fff" font-weight="bold" textLength="48.3" lengthAdjust="spacingAndGlyphs">23.27250</text>
<text x="1070.2" y="388.6" fill="#d7ecd8" font-weight="bold" textLength="48.3" lengthAdjust="spacingAndGlyphs">14:21:39</text>
<rect x="1062" y="393" width="62" height="17" rx="1.2" fill="#9598a1"/>
<text x="1070.2" y="406.1" fill="#111216" textLength="48.3" lengthAdjust="spacingAndGlyphs">23.26510</text>
<rect x="1062" y="410" width="62" height="17" rx="1.2" fill="#4caf50"/>
<text x="1070.2" y="423.1" fill="#fff" font-weight="bold" textLength="48.3" lengthAdjust="spacingAndGlyphs">23.01800</text>
<rect x="1062" y="427" width="62" height="17" rx="1.2" fill="#434651"/>
<text x="1070.2" y="440.1" fill="#fff" font-weight="bold" textLength="48.3" lengthAdjust="spacingAndGlyphs">22.65942</text>
<rect x="1062" y="444" width="62" height="17" rx="1.2" fill="#000"/>
<text x="1070.2" y="457.1" fill="#fff" font-weight="bold" textLength="48.3" lengthAdjust="spacingAndGlyphs">22.40797</text>
<rect x="1062" y="483" width="62" height="17" rx="1.2" fill="#000"/>
<text x="1070.2" y="496.1" fill="#fff" font-weight="bold" textLength="48.3" lengthAdjust="spacingAndGlyphs">22.00279</text>
<rect x="1062" y="506" width="62" height="17" rx="1.2" fill="#000"/>
<text x="1070.2" y="519.1" fill="#fff" font-weight="bold" textLength="48.3" lengthAdjust="spacingAndGlyphs">21.75820</text>
<rect x="1062" y="530" width="62" height="17" rx="1.2" fill="#000"/>
<text x="1070.2" y="543.1" fill="#fff" font-weight="bold" textLength="48.3" lengthAdjust="spacingAndGlyphs">21.50967</text>
<rect x="1062" y="28" width="65" height="33" fill="#fff"/>
<rect x="1065.5" y="30.5" width="58" height="27" rx="4" fill="#fff" stroke="#e4e7ee" stroke-width="1"/>
<text x="1075.1" y="49" fill="#131722" font-size="12.6" textLength="20.5" lengthAdjust="spacingAndGlyphs">USD</text>
<g clip-path="url(#c70)"><text x="1070.2" y="700.6" fill="#131722" textLength="29" lengthAdjust="spacingAndGlyphs">70.00</text></g>
<g><text x="1070.2" y="749.7" fill="#131722" textLength="29" lengthAdjust="spacingAndGlyphs">60.00</text></g>
<g><text x="1070.2" y="770.9" fill="#131722" textLength="29" lengthAdjust="spacingAndGlyphs">54.95</text></g>
<g><text x="1070.2" y="822.3" fill="#131722" textLength="29" lengthAdjust="spacingAndGlyphs">46.36</text></g>
<g><text x="1070.2" y="846.9" fill="#131722" textLength="29" lengthAdjust="spacingAndGlyphs">40.00</text></g>
<rect x="1062" y="775" width="43" height="17" rx="1.2" fill="#9598a1"/>
<text x="1070.2" y="788.1" fill="#111216" textLength="29" lengthAdjust="spacingAndGlyphs">48.87</text>
<rect x="1062" y="792" width="43" height="17" rx="1.2" fill="#0c3299"/>
<text x="1070.2" y="805.1" fill="#fff" font-weight="bold" textLength="29" lengthAdjust="spacingAndGlyphs">48.72</text>
<text x="15" y="894" fill="#131722" textLength="15.7" lengthAdjust="spacingAndGlyphs">Nis</text>
<text x="107.7" y="894" fill="#131722" textLength="21" lengthAdjust="spacingAndGlyphs">May</text>
<text x="224" y="894" fill="#131722" textLength="20" lengthAdjust="spacingAndGlyphs">Haz</text>
<text x="334.3" y="894" fill="#131722" textLength="21" lengthAdjust="spacingAndGlyphs">Tem</text>
<text x="441" y="894" fill="#131722" textLength="19.7" lengthAdjust="spacingAndGlyphs">Ağu</text>
<text x="559" y="894" fill="#131722" textLength="15" lengthAdjust="spacingAndGlyphs">Eyl</text>
<text x="664.3" y="894" fill="#131722" textLength="15.7" lengthAdjust="spacingAndGlyphs">Eki</text>
<text x="774.7" y="894" fill="#131722" textLength="17.6" lengthAdjust="spacingAndGlyphs">Kas</text>
<text x="885" y="894" fill="#131722" textLength="17.3" lengthAdjust="spacingAndGlyphs">Ara</text>
<text x="981.3" y="894" fill="#131722" stroke="#131722" stroke-width="0.45" textLength="27.4" lengthAdjust="spacingAndGlyphs">2024</text>
</svg>
</body></html>
